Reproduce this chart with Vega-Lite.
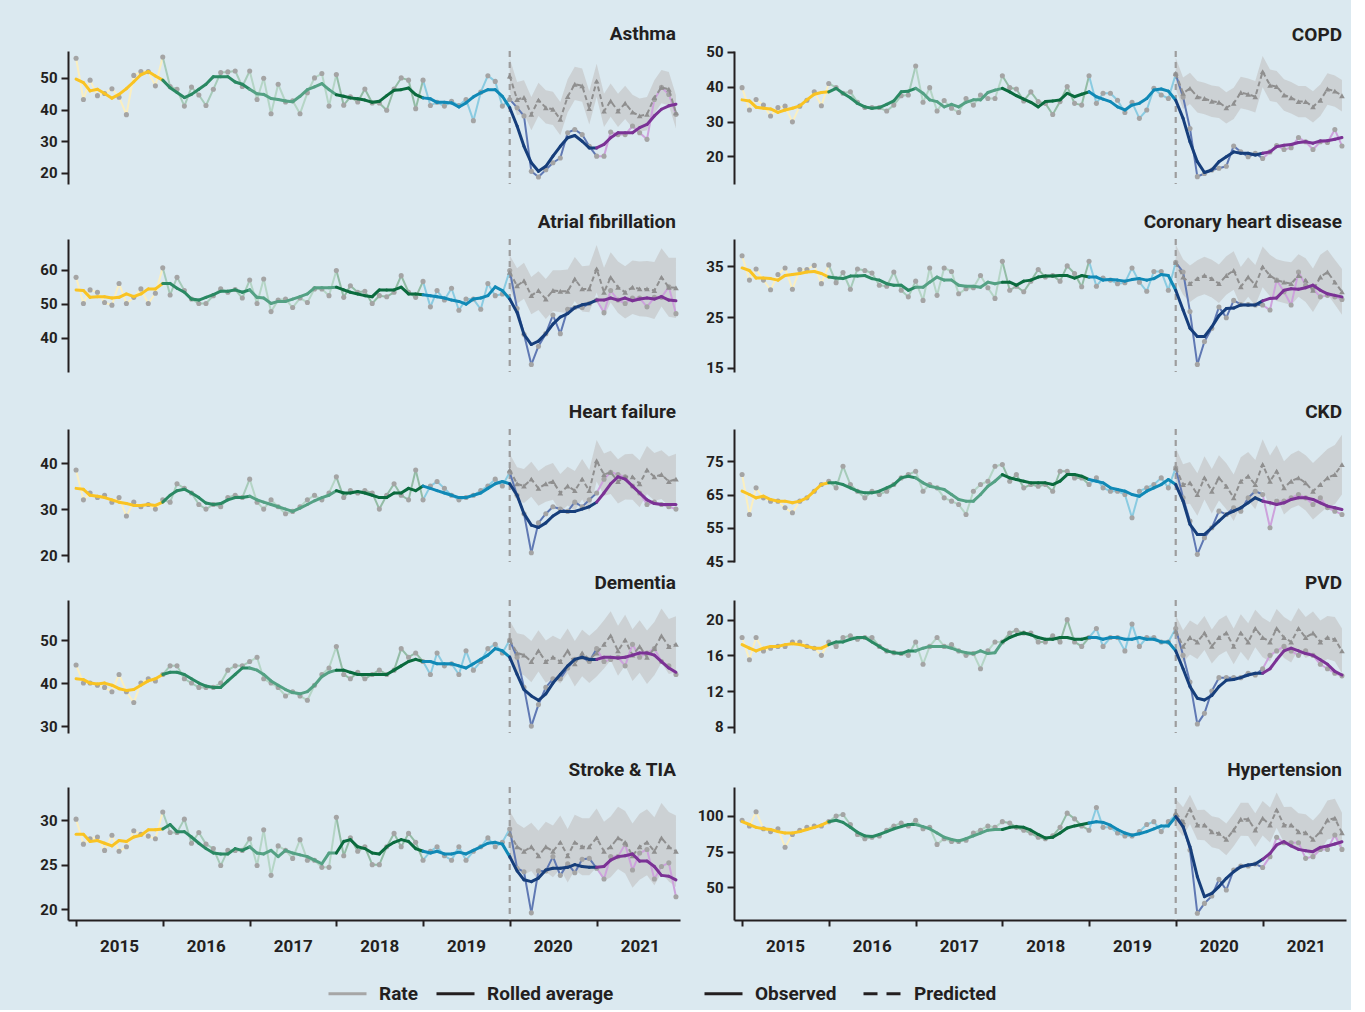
{
"$schema":"https://vega.github.io/schema/vega-lite/v6.json",
"background":"#dbe9f0",
"padding":{"left":28,"top":24,"right":5,"bottom":6},
"config":{
"font":"Roboto",
"view":{"stroke":null},
"axis":{"domainColor":"#231f20","domainWidth":2,"tickColor":"#231f20","tickWidth":2,"tickSize":7,"labelFontWeight":"bold","labelFontSize":15,"labelColor":"#231f20","grid":false,"labelPadding":4,"labelOverlap":false},
"axisY":{"minExtent":40},
"title":{"anchor":"end","fontSize":19,"fontWeight":"bold","color":"#231f20","offset":6,"dx":-4}
},
"datasets":{
"cut":[{"d":"2020-01"}],
"keys":[{"s":"Rate","o":"Observed"},{"s":"Rolled average","o":"Predicted"}],
"obs":[
{"c":"AST","d":"2015-01","r":56.2,"a":49.6},{"c":"AST","d":"2015-02","r":43.2,"a":48.5},{"c":"AST","d":"2015-03","r":49.3,"a":45.9},{"c":"AST","d":"2015-04","r":44.4,"a":46.4},{"c":"AST","d":"2015-05","r":45.1,"a":45.1},{"c":"AST","d":"2015-06","r":46.6,"a":43.6},{"c":"AST","d":"2015-07","r":43.9,"a":44.8},{"c":"AST","d":"2015-08","r":38.4,"a":46.6},{"c":"AST","d":"2015-09","r":50.8,"a":48.8},{"c":"AST","d":"2015-10","r":52.0,"a":51.0},{"c":"AST","d":"2015-11","r":52.0,"a":52.0},{"c":"AST","d":"2015-12","r":47.5,"a":50.6},
{"c":"AST","d":"2016-01","r":56.6,"a":49.3},{"c":"AST","d":"2016-02","r":47.3,"a":46.9},{"c":"AST","d":"2016-03","r":46.4,"a":45.4},{"c":"AST","d":"2016-04","r":41.1,"a":43.8},{"c":"AST","d":"2016-05","r":47.1,"a":44.8},{"c":"AST","d":"2016-06","r":44.6,"a":46.4},{"c":"AST","d":"2016-07","r":41.3,"a":48.0},{"c":"AST","d":"2016-08","r":46.4,"a":50.4},{"c":"AST","d":"2016-09","r":51.7,"a":50.4},{"c":"AST","d":"2016-10","r":51.9,"a":50.4},{"c":"AST","d":"2016-11","r":52.2,"a":48.7},{"c":"AST","d":"2016-12","r":47.3,"a":48.0},
{"c":"AST","d":"2017-01","r":52.2,"a":46.4},{"c":"AST","d":"2017-02","r":43.2,"a":45.0},{"c":"AST","d":"2017-03","r":49.9,"a":44.8},{"c":"AST","d":"2017-04","r":38.7,"a":43.5},{"c":"AST","d":"2017-05","r":48.0,"a":43.2},{"c":"AST","d":"2017-06","r":42.4,"a":42.7},{"c":"AST","d":"2017-07","r":42.8,"a":42.5},{"c":"AST","d":"2017-08","r":38.7,"a":44.2},{"c":"AST","d":"2017-09","r":45.3,"a":46.3},{"c":"AST","d":"2017-10","r":50.0,"a":47.2},{"c":"AST","d":"2017-11","r":51.4,"a":48.2},{"c":"AST","d":"2017-12","r":41.1,"a":46.3},
{"c":"AST","d":"2018-01","r":51.1,"a":44.7},{"c":"AST","d":"2018-02","r":41.4,"a":44.2},{"c":"AST","d":"2018-03","r":44.0,"a":43.7},{"c":"AST","d":"2018-04","r":42.4,"a":43.4},{"c":"AST","d":"2018-05","r":46.5,"a":43.0},{"c":"AST","d":"2018-06","r":42.1,"a":42.3},{"c":"AST","d":"2018-07","r":42.1,"a":42.6},{"c":"AST","d":"2018-08","r":39.8,"a":44.4},{"c":"AST","d":"2018-09","r":46.5,"a":46.1},{"c":"AST","d":"2018-10","r":50.0,"a":46.3},{"c":"AST","d":"2018-11","r":49.3,"a":46.8},{"c":"AST","d":"2018-12","r":40.3,"a":44.7},
{"c":"AST","d":"2019-01","r":49.3,"a":43.7},{"c":"AST","d":"2019-02","r":41.3,"a":43.4},{"c":"AST","d":"2019-03","r":42.3,"a":42.3},{"c":"AST","d":"2019-04","r":41.1,"a":42.3},{"c":"AST","d":"2019-05","r":42.6,"a":42.1},{"c":"AST","d":"2019-06","r":41.3,"a":40.8},{"c":"AST","d":"2019-07","r":43.2,"a":42.1},{"c":"AST","d":"2019-08","r":36.5,"a":44.0},{"c":"AST","d":"2019-09","r":45.5,"a":45.3},{"c":"AST","d":"2019-10","r":50.7,"a":46.3},{"c":"AST","d":"2019-11","r":48.9,"a":46.3},{"c":"AST","d":"2019-12","r":41.1,"a":44.2},
{"c":"AST","d":"2020-01","r":43.2,"a":40.6},{"c":"AST","d":"2020-02","r":40.6,"a":34.8},{"c":"AST","d":"2020-03","r":38.0,"a":28.4},{"c":"AST","d":"2020-04","r":20.5,"a":23.2},{"c":"AST","d":"2020-05","r":18.7,"a":20.5},{"c":"AST","d":"2020-06","r":21.0,"a":22.1},{"c":"AST","d":"2020-07","r":23.2,"a":25.3},{"c":"AST","d":"2020-08","r":24.7,"a":28.4},{"c":"AST","d":"2020-09","r":32.7,"a":31.1},{"c":"AST","d":"2020-10","r":33.7,"a":31.8},{"c":"AST","d":"2020-11","r":32.1,"a":30.0},{"c":"AST","d":"2020-12","r":28.4,"a":27.9},
{"c":"AST","d":"2021-01","r":25.3,"a":27.9},{"c":"AST","d":"2021-02","r":25.3,"a":29.0},{"c":"AST","d":"2021-03","r":32.9,"a":31.1},{"c":"AST","d":"2021-04","r":32.1,"a":32.7},{"c":"AST","d":"2021-05","r":32.1,"a":32.7},{"c":"AST","d":"2021-06","r":34.8,"a":32.7},{"c":"AST","d":"2021-07","r":32.7,"a":34.3},{"c":"AST","d":"2021-08","r":30.6,"a":35.3},{"c":"AST","d":"2021-09","r":43.2,"a":38.0},{"c":"AST","d":"2021-10","r":47.0,"a":40.1},{"c":"AST","d":"2021-11","r":44.8,"a":41.2},{"c":"AST","d":"2021-12","r":38.5,"a":41.7},
{"c":"COPD","d":"2015-01","r":39.7,"a":36.2},{"c":"COPD","d":"2015-02","r":33.3,"a":35.9},{"c":"COPD","d":"2015-03","r":36.3,"a":34.1},{"c":"COPD","d":"2015-04","r":34.7,"a":33.8},{"c":"COPD","d":"2015-05","r":31.6,"a":33.6},{"c":"COPD","d":"2015-06","r":34.0,"a":32.6},{"c":"COPD","d":"2015-07","r":34.4,"a":33.3},{"c":"COPD","d":"2015-08","r":29.9,"a":33.8},{"c":"COPD","d":"2015-09","r":34.4,"a":34.5},{"c":"COPD","d":"2015-10","r":36.1,"a":36.2},{"c":"COPD","d":"2015-11","r":38.5,"a":37.8},{"c":"COPD","d":"2015-12","r":34.5,"a":38.3},
{"c":"COPD","d":"2016-01","r":40.9,"a":38.5},{"c":"COPD","d":"2016-02","r":39.7,"a":39.5},{"c":"COPD","d":"2016-03","r":38.1,"a":38.1},{"c":"COPD","d":"2016-04","r":38.5,"a":36.8},{"c":"COPD","d":"2016-05","r":35.5,"a":35.2},{"c":"COPD","d":"2016-06","r":34.0,"a":34.2},{"c":"COPD","d":"2016-07","r":34.0,"a":33.8},{"c":"COPD","d":"2016-08","r":34.0,"a":34.0},{"c":"COPD","d":"2016-09","r":33.0,"a":34.9},{"c":"COPD","d":"2016-10","r":34.7,"a":35.9},{"c":"COPD","d":"2016-11","r":37.4,"a":38.5},{"c":"COPD","d":"2016-12","r":37.6,"a":38.7},
{"c":"COPD","d":"2017-01","r":45.9,"a":39.5},{"c":"COPD","d":"2017-02","r":35.5,"a":38.1},{"c":"COPD","d":"2017-03","r":39.7,"a":36.2},{"c":"COPD","d":"2017-04","r":33.0,"a":35.7},{"c":"COPD","d":"2017-05","r":36.0,"a":34.2},{"c":"COPD","d":"2017-06","r":33.8,"a":34.9},{"c":"COPD","d":"2017-07","r":32.6,"a":34.2},{"c":"COPD","d":"2017-08","r":36.6,"a":35.5},{"c":"COPD","d":"2017-09","r":34.7,"a":36.2},{"c":"COPD","d":"2017-10","r":37.6,"a":36.2},{"c":"COPD","d":"2017-11","r":36.6,"a":38.3},{"c":"COPD","d":"2017-12","r":36.6,"a":39.0},
{"c":"COPD","d":"2018-01","r":43.1,"a":39.5},{"c":"COPD","d":"2018-02","r":39.7,"a":38.5},{"c":"COPD","d":"2018-03","r":39.3,"a":37.4},{"c":"COPD","d":"2018-04","r":35.9,"a":36.4},{"c":"COPD","d":"2018-05","r":38.5,"a":35.5},{"c":"COPD","d":"2018-06","r":35.7,"a":34.2},{"c":"COPD","d":"2018-07","r":35.2,"a":35.7},{"c":"COPD","d":"2018-08","r":32.0,"a":35.9},{"c":"COPD","d":"2018-09","r":35.7,"a":36.2},{"c":"COPD","d":"2018-10","r":40.0,"a":38.1},{"c":"COPD","d":"2018-11","r":35.2,"a":37.1},{"c":"COPD","d":"2018-12","r":34.7,"a":37.8},
{"c":"COPD","d":"2019-01","r":43.1,"a":38.5},{"c":"COPD","d":"2019-02","r":35.2,"a":37.1},{"c":"COPD","d":"2019-03","r":38.1,"a":36.4},{"c":"COPD","d":"2019-04","r":38.1,"a":35.7},{"c":"COPD","d":"2019-05","r":36.1,"a":34.2},{"c":"COPD","d":"2019-06","r":32.6,"a":33.3},{"c":"COPD","d":"2019-07","r":35.5,"a":34.7},{"c":"COPD","d":"2019-08","r":30.9,"a":35.2},{"c":"COPD","d":"2019-09","r":33.3,"a":36.6},{"c":"COPD","d":"2019-10","r":39.5,"a":39.0},{"c":"COPD","d":"2019-11","r":37.6,"a":39.3},{"c":"COPD","d":"2019-12","r":36.6,"a":38.7},
{"c":"COPD","d":"2020-01","r":43.5,"a":36.1},{"c":"COPD","d":"2020-02","r":37.0,"a":30.9},{"c":"COPD","d":"2020-03","r":28.0,"a":24.2},{"c":"COPD","d":"2020-04","r":14.2,"a":18.5},{"c":"COPD","d":"2020-05","r":15.1,"a":15.4},{"c":"COPD","d":"2020-06","r":16.1,"a":16.1},{"c":"COPD","d":"2020-07","r":16.6,"a":18.5},{"c":"COPD","d":"2020-08","r":17.2,"a":19.9},{"c":"COPD","d":"2020-09","r":23.0,"a":21.3},{"c":"COPD","d":"2020-10","r":21.3,"a":20.9},{"c":"COPD","d":"2020-11","r":19.9,"a":20.9},{"c":"COPD","d":"2020-12","r":20.9,"a":20.4},
{"c":"COPD","d":"2021-01","r":19.4,"a":20.9},{"c":"COPD","d":"2021-02","r":21.3,"a":21.3},{"c":"COPD","d":"2021-03","r":23.1,"a":22.8},{"c":"COPD","d":"2021-04","r":22.0,"a":23.2},{"c":"COPD","d":"2021-05","r":22.5,"a":23.4},{"c":"COPD","d":"2021-06","r":25.4,"a":24.0},{"c":"COPD","d":"2021-07","r":24.2,"a":24.2},{"c":"COPD","d":"2021-08","r":22.0,"a":23.8},{"c":"COPD","d":"2021-09","r":24.2,"a":24.4},{"c":"COPD","d":"2021-10","r":24.0,"a":24.5},{"c":"COPD","d":"2021-11","r":27.7,"a":24.9},{"c":"COPD","d":"2021-12","r":23.0,"a":25.4},
{"c":"AF","d":"2015-01","r":57.8,"a":54.1},{"c":"AF","d":"2015-02","r":50.1,"a":53.9},{"c":"AF","d":"2015-03","r":54.1,"a":51.9},{"c":"AF","d":"2015-04","r":53.4,"a":52.1},{"c":"AF","d":"2015-05","r":50.4,"a":52.1},{"c":"AF","d":"2015-06","r":49.6,"a":51.7},{"c":"AF","d":"2015-07","r":56.0,"a":51.9},{"c":"AF","d":"2015-08","r":50.1,"a":52.9},{"c":"AF","d":"2015-09","r":51.9,"a":52.1},{"c":"AF","d":"2015-10","r":54.4,"a":52.9},{"c":"AF","d":"2015-11","r":50.1,"a":54.4},{"c":"AF","d":"2015-12","r":53.1,"a":54.4},
{"c":"AF","d":"2016-01","r":60.6,"a":56.0},{"c":"AF","d":"2016-02","r":52.6,"a":56.0},{"c":"AF","d":"2016-03","r":57.8,"a":54.6},{"c":"AF","d":"2016-04","r":53.9,"a":53.4},{"c":"AF","d":"2016-05","r":51.4,"a":51.4},{"c":"AF","d":"2016-06","r":50.1,"a":51.1},{"c":"AF","d":"2016-07","r":50.1,"a":51.9},{"c":"AF","d":"2016-08","r":52.4,"a":52.7},{"c":"AF","d":"2016-09","r":54.4,"a":53.7},{"c":"AF","d":"2016-10","r":53.4,"a":53.7},{"c":"AF","d":"2016-11","r":54.2,"a":54.1},{"c":"AF","d":"2016-12","r":51.7,"a":53.4},
{"c":"AF","d":"2017-01","r":57.0,"a":54.1},{"c":"AF","d":"2017-02","r":50.1,"a":51.9},{"c":"AF","d":"2017-03","r":57.3,"a":51.7},{"c":"AF","d":"2017-04","r":47.7,"a":50.1},{"c":"AF","d":"2017-05","r":51.1,"a":50.7},{"c":"AF","d":"2017-06","r":51.4,"a":50.7},{"c":"AF","d":"2017-07","r":48.9,"a":51.4},{"c":"AF","d":"2017-08","r":51.7,"a":52.1},{"c":"AF","d":"2017-09","r":50.4,"a":52.9},{"c":"AF","d":"2017-10","r":54.4,"a":54.7},{"c":"AF","d":"2017-11","r":54.4,"a":54.7},{"c":"AF","d":"2017-12","r":52.4,"a":54.7},
{"c":"AF","d":"2018-01","r":59.8,"a":54.9},{"c":"AF","d":"2018-02","r":51.9,"a":54.1},{"c":"AF","d":"2018-03","r":55.3,"a":53.4},{"c":"AF","d":"2018-04","r":53.4,"a":52.9},{"c":"AF","d":"2018-05","r":53.7,"a":52.4},{"c":"AF","d":"2018-06","r":50.1,"a":52.1},{"c":"AF","d":"2018-07","r":52.4,"a":54.1},{"c":"AF","d":"2018-08","r":52.1,"a":54.1},{"c":"AF","d":"2018-09","r":53.4,"a":54.1},{"c":"AF","d":"2018-10","r":58.3,"a":54.9},{"c":"AF","d":"2018-11","r":53.4,"a":52.9},{"c":"AF","d":"2018-12","r":51.9,"a":52.9},
{"c":"AF","d":"2019-01","r":56.6,"a":52.7},{"c":"AF","d":"2019-02","r":49.1,"a":52.4},{"c":"AF","d":"2019-03","r":53.9,"a":52.1},{"c":"AF","d":"2019-04","r":51.1,"a":51.7},{"c":"AF","d":"2019-05","r":54.6,"a":51.1},{"c":"AF","d":"2019-06","r":48.1,"a":50.7},{"c":"AF","d":"2019-07","r":51.4,"a":49.9},{"c":"AF","d":"2019-08","r":51.4,"a":51.4},{"c":"AF","d":"2019-09","r":48.4,"a":51.7},{"c":"AF","d":"2019-10","r":56.0,"a":52.4},{"c":"AF","d":"2019-11","r":52.4,"a":55.0},{"c":"AF","d":"2019-12","r":52.9,"a":53.9},
{"c":"AF","d":"2020-01","r":59.8,"a":51.4},{"c":"AF","d":"2020-02","r":48.6,"a":47.4},{"c":"AF","d":"2020-03","r":41.0,"a":41.0},{"c":"AF","d":"2020-04","r":32.1,"a":38.0},{"c":"AF","d":"2020-05","r":37.5,"a":39.0},{"c":"AF","d":"2020-06","r":41.2,"a":41.2},{"c":"AF","d":"2020-07","r":46.7,"a":44.0},{"c":"AF","d":"2020-08","r":41.2,"a":46.1},{"c":"AF","d":"2020-09","r":48.4,"a":47.1},{"c":"AF","d":"2020-10","r":48.9,"a":48.9},{"c":"AF","d":"2020-11","r":48.9,"a":49.7},{"c":"AF","d":"2020-12","r":50.1,"a":50.1},
{"c":"AF","d":"2021-01","r":51.1,"a":51.1},{"c":"AF","d":"2021-02","r":47.4,"a":51.1},{"c":"AF","d":"2021-03","r":53.9,"a":51.7},{"c":"AF","d":"2021-04","r":51.1,"a":51.1},{"c":"AF","d":"2021-05","r":50.1,"a":51.7},{"c":"AF","d":"2021-06","r":51.7,"a":50.9},{"c":"AF","d":"2021-07","r":51.7,"a":51.4},{"c":"AF","d":"2021-08","r":49.1,"a":51.7},{"c":"AF","d":"2021-09","r":51.9,"a":51.4},{"c":"AF","d":"2021-10","r":51.9,"a":52.1},{"c":"AF","d":"2021-11","r":55.0,"a":51.1},{"c":"AF","d":"2021-12","r":47.1,"a":50.9},
{"c":"CHD","d":"2015-01","r":37.1,"a":34.7},{"c":"CHD","d":"2015-02","r":32.3,"a":34.2},{"c":"CHD","d":"2015-03","r":34.5,"a":32.7},{"c":"CHD","d":"2015-04","r":32.3,"a":32.7},{"c":"CHD","d":"2015-05","r":30.4,"a":32.6},{"c":"CHD","d":"2015-06","r":33.4,"a":32.3},{"c":"CHD","d":"2015-07","r":34.7,"a":33.2},{"c":"CHD","d":"2015-08","r":30.5,"a":33.4},{"c":"CHD","d":"2015-09","r":34.4,"a":33.6},{"c":"CHD","d":"2015-10","r":34.4,"a":33.9},{"c":"CHD","d":"2015-11","r":35.2,"a":34.0},{"c":"CHD","d":"2015-12","r":31.6,"a":33.6},
{"c":"CHD","d":"2016-01","r":35.3,"a":32.9},{"c":"CHD","d":"2016-02","r":31.8,"a":32.7},{"c":"CHD","d":"2016-03","r":33.8,"a":32.6},{"c":"CHD","d":"2016-04","r":30.5,"a":33.1},{"c":"CHD","d":"2016-05","r":34.5,"a":33.1},{"c":"CHD","d":"2016-06","r":34.2,"a":33.2},{"c":"CHD","d":"2016-07","r":33.7,"a":32.6},{"c":"CHD","d":"2016-08","r":31.3,"a":32.3},{"c":"CHD","d":"2016-09","r":31.1,"a":31.6},{"c":"CHD","d":"2016-10","r":33.9,"a":31.3},{"c":"CHD","d":"2016-11","r":30.3,"a":31.3},{"c":"CHD","d":"2016-12","r":29.0,"a":30.3},
{"c":"CHD","d":"2017-01","r":32.1,"a":30.9},{"c":"CHD","d":"2017-02","r":28.3,"a":30.9},{"c":"CHD","d":"2017-03","r":34.7,"a":31.9},{"c":"CHD","d":"2017-04","r":29.3,"a":32.9},{"c":"CHD","d":"2017-05","r":34.7,"a":32.3},{"c":"CHD","d":"2017-06","r":34.0,"a":32.3},{"c":"CHD","d":"2017-07","r":29.6,"a":31.3},{"c":"CHD","d":"2017-08","r":30.6,"a":31.1},{"c":"CHD","d":"2017-09","r":30.8,"a":31.1},{"c":"CHD","d":"2017-10","r":33.2,"a":30.9},{"c":"CHD","d":"2017-11","r":30.8,"a":31.9},{"c":"CHD","d":"2017-12","r":28.7,"a":31.6},
{"c":"CHD","d":"2018-01","r":36.0,"a":31.9},{"c":"CHD","d":"2018-02","r":30.3,"a":31.9},{"c":"CHD","d":"2018-03","r":31.1,"a":31.3},{"c":"CHD","d":"2018-04","r":30.0,"a":32.1},{"c":"CHD","d":"2018-05","r":32.1,"a":32.3},{"c":"CHD","d":"2018-06","r":34.4,"a":32.9},{"c":"CHD","d":"2018-07","r":32.9,"a":33.1},{"c":"CHD","d":"2018-08","r":33.2,"a":33.1},{"c":"CHD","d":"2018-09","r":32.1,"a":33.2},{"c":"CHD","d":"2018-10","r":35.1,"a":33.2},{"c":"CHD","d":"2018-11","r":33.6,"a":32.7},{"c":"CHD","d":"2018-12","r":31.0,"a":33.2},
{"c":"CHD","d":"2019-01","r":36.0,"a":32.9},{"c":"CHD","d":"2019-02","r":31.1,"a":32.9},{"c":"CHD","d":"2019-03","r":32.7,"a":32.3},{"c":"CHD","d":"2019-04","r":32.3,"a":32.4},{"c":"CHD","d":"2019-05","r":31.6,"a":32.3},{"c":"CHD","d":"2019-06","r":31.8,"a":32.1},{"c":"CHD","d":"2019-07","r":34.7,"a":32.4},{"c":"CHD","d":"2019-08","r":31.9,"a":32.6},{"c":"CHD","d":"2019-09","r":30.1,"a":32.3},{"c":"CHD","d":"2019-10","r":34.0,"a":32.6},{"c":"CHD","d":"2019-11","r":34.0,"a":33.4},{"c":"CHD","d":"2019-12","r":30.3,"a":33.2},
{"c":"CHD","d":"2020-01","r":35.8,"a":30.3},{"c":"CHD","d":"2020-02","r":33.9,"a":26.4},{"c":"CHD","d":"2020-03","r":26.1,"a":22.8},{"c":"CHD","d":"2020-04","r":15.7,"a":21.2},{"c":"CHD","d":"2020-05","r":20.2,"a":21.2},{"c":"CHD","d":"2020-06","r":22.8,"a":23.1},{"c":"CHD","d":"2020-07","r":27.0,"a":25.3},{"c":"CHD","d":"2020-08","r":24.9,"a":26.7},{"c":"CHD","d":"2020-09","r":28.3,"a":26.8},{"c":"CHD","d":"2020-10","r":27.5,"a":27.4},{"c":"CHD","d":"2020-11","r":27.5,"a":27.4},{"c":"CHD","d":"2020-12","r":27.4,"a":27.4},
{"c":"CHD","d":"2021-01","r":27.4,"a":28.2},{"c":"CHD","d":"2021-02","r":26.4,"a":28.7},{"c":"CHD","d":"2021-03","r":32.3,"a":28.8},{"c":"CHD","d":"2021-04","r":30.0,"a":30.3},{"c":"CHD","d":"2021-05","r":27.4,"a":30.6},{"c":"CHD","d":"2021-06","r":33.9,"a":30.5},{"c":"CHD","d":"2021-07","r":31.3,"a":30.8},{"c":"CHD","d":"2021-08","r":30.6,"a":31.3},{"c":"CHD","d":"2021-09","r":29.0,"a":30.3},{"c":"CHD","d":"2021-10","r":29.3,"a":29.6},{"c":"CHD","d":"2021-11","r":29.0,"a":29.3},{"c":"CHD","d":"2021-12","r":28.5,"a":29.0},
{"c":"HF","d":"2015-01","r":38.5,"a":34.5},{"c":"HF","d":"2015-02","r":32.0,"a":34.3},{"c":"HF","d":"2015-03","r":33.5,"a":33.0},{"c":"HF","d":"2015-04","r":32.5,"a":32.8},{"c":"HF","d":"2015-05","r":33.0,"a":32.5},{"c":"HF","d":"2015-06","r":31.5,"a":32.0},{"c":"HF","d":"2015-07","r":32.5,"a":31.5},{"c":"HF","d":"2015-08","r":28.5,"a":31.2},{"c":"HF","d":"2015-09","r":31.5,"a":30.8},{"c":"HF","d":"2015-10","r":30.5,"a":30.8},{"c":"HF","d":"2015-11","r":31.0,"a":31.0},{"c":"HF","d":"2015-12","r":30.0,"a":30.8},
{"c":"HF","d":"2016-01","r":32.0,"a":31.5},{"c":"HF","d":"2016-02","r":31.5,"a":33.0},{"c":"HF","d":"2016-03","r":35.5,"a":34.0},{"c":"HF","d":"2016-04","r":34.5,"a":34.3},{"c":"HF","d":"2016-05","r":33.5,"a":33.5},{"c":"HF","d":"2016-06","r":31.0,"a":32.5},{"c":"HF","d":"2016-07","r":30.0,"a":31.3},{"c":"HF","d":"2016-08","r":31.0,"a":31.0},{"c":"HF","d":"2016-09","r":30.5,"a":31.2},{"c":"HF","d":"2016-10","r":32.5,"a":32.0},{"c":"HF","d":"2016-11","r":33.0,"a":32.5},{"c":"HF","d":"2016-12","r":32.5,"a":32.5},
{"c":"HF","d":"2017-01","r":36.5,"a":32.8},{"c":"HF","d":"2017-02","r":31.5,"a":32.0},{"c":"HF","d":"2017-03","r":30.0,"a":31.5},{"c":"HF","d":"2017-04","r":32.0,"a":31.0},{"c":"HF","d":"2017-05","r":30.5,"a":30.5},{"c":"HF","d":"2017-06","r":29.0,"a":30.0},{"c":"HF","d":"2017-07","r":29.5,"a":29.5},{"c":"HF","d":"2017-08","r":30.5,"a":30.2},{"c":"HF","d":"2017-09","r":32.0,"a":31.0},{"c":"HF","d":"2017-10","r":33.0,"a":31.8},{"c":"HF","d":"2017-11","r":32.0,"a":32.5},{"c":"HF","d":"2017-12","r":33.5,"a":33.0},
{"c":"HF","d":"2018-01","r":37.0,"a":34.0},{"c":"HF","d":"2018-02","r":32.5,"a":33.5},{"c":"HF","d":"2018-03","r":34.0,"a":33.5},{"c":"HF","d":"2018-04","r":33.5,"a":33.8},{"c":"HF","d":"2018-05","r":34.0,"a":33.5},{"c":"HF","d":"2018-06","r":33.5,"a":33.0},{"c":"HF","d":"2018-07","r":30.0,"a":32.5},{"c":"HF","d":"2018-08","r":33.0,"a":32.5},{"c":"HF","d":"2018-09","r":35.5,"a":33.5},{"c":"HF","d":"2018-10","r":33.0,"a":33.5},{"c":"HF","d":"2018-11","r":32.0,"a":34.5},{"c":"HF","d":"2018-12","r":38.5,"a":34.0},
{"c":"HF","d":"2019-01","r":32.0,"a":35.0},{"c":"HF","d":"2019-02","r":35.0,"a":34.5},{"c":"HF","d":"2019-03","r":36.0,"a":34.0},{"c":"HF","d":"2019-04","r":34.5,"a":33.5},{"c":"HF","d":"2019-05","r":33.0,"a":33.0},{"c":"HF","d":"2019-06","r":32.0,"a":32.5},{"c":"HF","d":"2019-07","r":32.5,"a":32.5},{"c":"HF","d":"2019-08","r":33.0,"a":33.0},{"c":"HF","d":"2019-09","r":34.0,"a":33.5},{"c":"HF","d":"2019-10","r":35.0,"a":34.5},{"c":"HF","d":"2019-11","r":36.5,"a":35.5},{"c":"HF","d":"2019-12","r":35.0,"a":36.0},
{"c":"HF","d":"2020-01","r":38.0,"a":35.5},{"c":"HF","d":"2020-02","r":33.0,"a":33.0},{"c":"HF","d":"2020-03","r":29.0,"a":29.0},{"c":"HF","d":"2020-04","r":20.5,"a":26.5},{"c":"HF","d":"2020-05","r":27.0,"a":26.0},{"c":"HF","d":"2020-06","r":29.0,"a":27.0},{"c":"HF","d":"2020-07","r":30.5,"a":28.5},{"c":"HF","d":"2020-08","r":30.0,"a":29.5},{"c":"HF","d":"2020-09","r":29.5,"a":29.5},{"c":"HF","d":"2020-10","r":31.5,"a":29.5},{"c":"HF","d":"2020-11","r":30.5,"a":30.0},{"c":"HF","d":"2020-12","r":32.0,"a":30.5},
{"c":"HF","d":"2021-01","r":33.5,"a":31.5},{"c":"HF","d":"2021-02","r":36.5,"a":33.5},{"c":"HF","d":"2021-03","r":38.0,"a":35.5},{"c":"HF","d":"2021-04","r":37.5,"a":37.0},{"c":"HF","d":"2021-05","r":37.0,"a":36.5},{"c":"HF","d":"2021-06","r":35.0,"a":35.0},{"c":"HF","d":"2021-07","r":33.5,"a":33.5},{"c":"HF","d":"2021-08","r":31.0,"a":32.0},{"c":"HF","d":"2021-09","r":31.5,"a":31.2},{"c":"HF","d":"2021-10","r":31.0,"a":31.0},{"c":"HF","d":"2021-11","r":30.5,"a":31.0},{"c":"HF","d":"2021-12","r":30.0,"a":31.0},
{"c":"CKD","d":"2015-01","r":71,"a":66},{"c":"CKD","d":"2015-02","r":59,"a":65},{"c":"CKD","d":"2015-03","r":67,"a":64},{"c":"CKD","d":"2015-04","r":64,"a":64.5},{"c":"CKD","d":"2015-05","r":63,"a":63.5},{"c":"CKD","d":"2015-06","r":63,"a":63},{"c":"CKD","d":"2015-07","r":61,"a":63},{"c":"CKD","d":"2015-08","r":59.5,"a":62.5},{"c":"CKD","d":"2015-09","r":63,"a":63},{"c":"CKD","d":"2015-10","r":64,"a":64},{"c":"CKD","d":"2015-11","r":66,"a":66},{"c":"CKD","d":"2015-12","r":68,"a":68},
{"c":"CKD","d":"2016-01","r":69,"a":68.5},{"c":"CKD","d":"2016-02","r":67,"a":68.5},{"c":"CKD","d":"2016-03","r":73.5,"a":68},{"c":"CKD","d":"2016-04","r":68,"a":67},{"c":"CKD","d":"2016-05","r":66,"a":66},{"c":"CKD","d":"2016-06","r":64,"a":65.5},{"c":"CKD","d":"2016-07","r":66,"a":65.5},{"c":"CKD","d":"2016-08","r":65,"a":66},{"c":"CKD","d":"2016-09","r":66,"a":67},{"c":"CKD","d":"2016-10","r":68,"a":68},{"c":"CKD","d":"2016-11","r":70,"a":70},{"c":"CKD","d":"2016-12","r":71,"a":70.5},
{"c":"CKD","d":"2017-01","r":72,"a":70},{"c":"CKD","d":"2017-02","r":66,"a":68.5},{"c":"CKD","d":"2017-03","r":68,"a":67.5},{"c":"CKD","d":"2017-04","r":67,"a":67},{"c":"CKD","d":"2017-05","r":64,"a":66.5},{"c":"CKD","d":"2017-06","r":63,"a":65},{"c":"CKD","d":"2017-07","r":62,"a":63.5},{"c":"CKD","d":"2017-08","r":59,"a":63},{"c":"CKD","d":"2017-09","r":66,"a":63},{"c":"CKD","d":"2017-10","r":68,"a":65},{"c":"CKD","d":"2017-11","r":69,"a":67.5},{"c":"CKD","d":"2017-12","r":73.5,"a":69},
{"c":"CKD","d":"2018-01","r":74,"a":71},{"c":"CKD","d":"2018-02","r":69,"a":70},{"c":"CKD","d":"2018-03","r":71,"a":69.5},{"c":"CKD","d":"2018-04","r":67,"a":69},{"c":"CKD","d":"2018-05","r":68,"a":68.5},{"c":"CKD","d":"2018-06","r":67.5,"a":68.5},{"c":"CKD","d":"2018-07","r":68,"a":68.5},{"c":"CKD","d":"2018-08","r":66,"a":68},{"c":"CKD","d":"2018-09","r":72,"a":69},{"c":"CKD","d":"2018-10","r":72,"a":71},{"c":"CKD","d":"2018-11","r":70,"a":71},{"c":"CKD","d":"2018-12","r":70,"a":70.5},
{"c":"CKD","d":"2019-01","r":68,"a":69.5},{"c":"CKD","d":"2019-02","r":70,"a":69},{"c":"CKD","d":"2019-03","r":67,"a":68.5},{"c":"CKD","d":"2019-04","r":66,"a":67},{"c":"CKD","d":"2019-05","r":66,"a":66.5},{"c":"CKD","d":"2019-06","r":65,"a":66},{"c":"CKD","d":"2019-07","r":58,"a":65},{"c":"CKD","d":"2019-08","r":66,"a":64.5},{"c":"CKD","d":"2019-09","r":67,"a":66},{"c":"CKD","d":"2019-10","r":68,"a":67},{"c":"CKD","d":"2019-11","r":70,"a":68},{"c":"CKD","d":"2019-12","r":67,"a":69.5},
{"c":"CKD","d":"2020-01","r":73,"a":68},{"c":"CKD","d":"2020-02","r":64,"a":63},{"c":"CKD","d":"2020-03","r":57,"a":56},{"c":"CKD","d":"2020-04","r":47,"a":53},{"c":"CKD","d":"2020-05","r":52,"a":53},{"c":"CKD","d":"2020-06","r":55,"a":55},{"c":"CKD","d":"2020-07","r":60,"a":57},{"c":"CKD","d":"2020-08","r":59,"a":59},{"c":"CKD","d":"2020-09","r":61,"a":60},{"c":"CKD","d":"2020-10","r":60,"a":61},{"c":"CKD","d":"2020-11","r":64,"a":62.5},{"c":"CKD","d":"2020-12","r":66,"a":64},
{"c":"CKD","d":"2021-01","r":65,"a":63},{"c":"CKD","d":"2021-02","r":55,"a":62.5},{"c":"CKD","d":"2021-03","r":63,"a":62},{"c":"CKD","d":"2021-04","r":63,"a":62.5},{"c":"CKD","d":"2021-05","r":64,"a":63.5},{"c":"CKD","d":"2021-06","r":65,"a":64},{"c":"CKD","d":"2021-07","r":64,"a":64},{"c":"CKD","d":"2021-08","r":62,"a":63.5},{"c":"CKD","d":"2021-09","r":64,"a":62.5},{"c":"CKD","d":"2021-10","r":61,"a":61.5},{"c":"CKD","d":"2021-11","r":60,"a":61},{"c":"CKD","d":"2021-12","r":59,"a":60.5},
{"c":"DEM","d":"2015-01","r":44.2,"a":41.0},{"c":"DEM","d":"2015-02","r":40.0,"a":40.8},{"c":"DEM","d":"2015-03","r":40.0,"a":40.0},{"c":"DEM","d":"2015-04","r":39.5,"a":39.8},{"c":"DEM","d":"2015-05","r":39.0,"a":40.0},{"c":"DEM","d":"2015-06","r":38.0,"a":39.5},{"c":"DEM","d":"2015-07","r":42.0,"a":38.7},{"c":"DEM","d":"2015-08","r":38.0,"a":38.3},{"c":"DEM","d":"2015-09","r":35.5,"a":38.5},{"c":"DEM","d":"2015-10","r":40.0,"a":39.5},{"c":"DEM","d":"2015-11","r":41.0,"a":40.5},{"c":"DEM","d":"2015-12","r":40.5,"a":41.0},
{"c":"DEM","d":"2016-01","r":42.0,"a":42.0},{"c":"DEM","d":"2016-02","r":44.0,"a":42.5},{"c":"DEM","d":"2016-03","r":44.0,"a":42.5},{"c":"DEM","d":"2016-04","r":41.0,"a":42.0},{"c":"DEM","d":"2016-05","r":40.0,"a":41.0},{"c":"DEM","d":"2016-06","r":39.0,"a":40.0},{"c":"DEM","d":"2016-07","r":39.0,"a":39.3},{"c":"DEM","d":"2016-08","r":39.0,"a":39.0},{"c":"DEM","d":"2016-09","r":40.0,"a":39.0},{"c":"DEM","d":"2016-10","r":43.0,"a":40.5},{"c":"DEM","d":"2016-11","r":44.0,"a":42.0},{"c":"DEM","d":"2016-12","r":44.0,"a":43.5},
{"c":"DEM","d":"2017-01","r":45.0,"a":43.5},{"c":"DEM","d":"2017-02","r":46.0,"a":43.0},{"c":"DEM","d":"2017-03","r":41.0,"a":42.0},{"c":"DEM","d":"2017-04","r":40.0,"a":40.5},{"c":"DEM","d":"2017-05","r":39.0,"a":39.5},{"c":"DEM","d":"2017-06","r":37.0,"a":38.5},{"c":"DEM","d":"2017-07","r":38.0,"a":37.8},{"c":"DEM","d":"2017-08","r":37.0,"a":37.5},{"c":"DEM","d":"2017-09","r":36.0,"a":38.0},{"c":"DEM","d":"2017-10","r":39.5,"a":39.5},{"c":"DEM","d":"2017-11","r":42.0,"a":41.5},{"c":"DEM","d":"2017-12","r":43.5,"a":42.5},
{"c":"DEM","d":"2018-01","r":48.5,"a":43.0},{"c":"DEM","d":"2018-02","r":42.0,"a":43.0},{"c":"DEM","d":"2018-03","r":41.0,"a":42.5},{"c":"DEM","d":"2018-04","r":42.5,"a":42.0},{"c":"DEM","d":"2018-05","r":41.0,"a":42.0},{"c":"DEM","d":"2018-06","r":42.0,"a":42.0},{"c":"DEM","d":"2018-07","r":43.0,"a":42.0},{"c":"DEM","d":"2018-08","r":42.0,"a":42.0},{"c":"DEM","d":"2018-09","r":43.0,"a":43.0},{"c":"DEM","d":"2018-10","r":48.0,"a":44.0},{"c":"DEM","d":"2018-11","r":46.0,"a":45.0},{"c":"DEM","d":"2018-12","r":47.0,"a":45.5},
{"c":"DEM","d":"2019-01","r":45.0,"a":45.0},{"c":"DEM","d":"2019-02","r":42.0,"a":45.0},{"c":"DEM","d":"2019-03","r":47.0,"a":44.5},{"c":"DEM","d":"2019-04","r":44.0,"a":44.5},{"c":"DEM","d":"2019-05","r":44.5,"a":44.5},{"c":"DEM","d":"2019-06","r":42.0,"a":44.0},{"c":"DEM","d":"2019-07","r":47.5,"a":43.5},{"c":"DEM","d":"2019-08","r":43.0,"a":44.5},{"c":"DEM","d":"2019-09","r":45.0,"a":45.5},{"c":"DEM","d":"2019-10","r":48.0,"a":46.5},{"c":"DEM","d":"2019-11","r":49.0,"a":48.0},{"c":"DEM","d":"2019-12","r":47.0,"a":47.5},
{"c":"DEM","d":"2020-01","r":50.0,"a":46.0},{"c":"DEM","d":"2020-02","r":46.0,"a":42.0},{"c":"DEM","d":"2020-03","r":39.0,"a":38.5},{"c":"DEM","d":"2020-04","r":30.0,"a":37.0},{"c":"DEM","d":"2020-05","r":35.0,"a":36.0},{"c":"DEM","d":"2020-06","r":39.0,"a":37.5},{"c":"DEM","d":"2020-07","r":41.0,"a":40.0},{"c":"DEM","d":"2020-08","r":41.0,"a":42.0},{"c":"DEM","d":"2020-09","r":43.5,"a":44.0},{"c":"DEM","d":"2020-10","r":45.5,"a":45.5},{"c":"DEM","d":"2020-11","r":46.0,"a":46.0},{"c":"DEM","d":"2020-12","r":45.0,"a":45.5},
{"c":"DEM","d":"2021-01","r":48.0,"a":45.5},{"c":"DEM","d":"2021-02","r":45.0,"a":46.0},{"c":"DEM","d":"2021-03","r":45.5,"a":46.0},{"c":"DEM","d":"2021-04","r":46.0,"a":45.8},{"c":"DEM","d":"2021-05","r":44.0,"a":46.0},{"c":"DEM","d":"2021-06","r":49.0,"a":46.5},{"c":"DEM","d":"2021-07","r":46.0,"a":47.0},{"c":"DEM","d":"2021-08","r":47.0,"a":47.0},{"c":"DEM","d":"2021-09","r":48.0,"a":46.5},{"c":"DEM","d":"2021-10","r":45.0,"a":45.0},{"c":"DEM","d":"2021-11","r":44.0,"a":43.5},{"c":"DEM","d":"2021-12","r":42.0,"a":42.5},
{"c":"PVD","d":"2015-01","r":18.0,"a":17.2},{"c":"PVD","d":"2015-02","r":15.5,"a":16.8},{"c":"PVD","d":"2015-03","r":18.0,"a":16.5},{"c":"PVD","d":"2015-04","r":16.5,"a":16.8},{"c":"PVD","d":"2015-05","r":16.8,"a":17.0},{"c":"PVD","d":"2015-06","r":17.0,"a":17.0},{"c":"PVD","d":"2015-07","r":17.0,"a":17.2},{"c":"PVD","d":"2015-08","r":17.5,"a":17.3},{"c":"PVD","d":"2015-09","r":17.5,"a":17.2},{"c":"PVD","d":"2015-10","r":17.0,"a":17.0},{"c":"PVD","d":"2015-11","r":16.8,"a":16.8},{"c":"PVD","d":"2015-12","r":16.0,"a":16.8},
{"c":"PVD","d":"2016-01","r":17.5,"a":17.2},{"c":"PVD","d":"2016-02","r":17.0,"a":17.5},{"c":"PVD","d":"2016-03","r":18.0,"a":17.5},{"c":"PVD","d":"2016-04","r":18.2,"a":17.8},{"c":"PVD","d":"2016-05","r":17.8,"a":18.0},{"c":"PVD","d":"2016-06","r":18.0,"a":18.0},{"c":"PVD","d":"2016-07","r":18.0,"a":17.5},{"c":"PVD","d":"2016-08","r":17.0,"a":17.0},{"c":"PVD","d":"2016-09","r":16.5,"a":16.5},{"c":"PVD","d":"2016-10","r":16.3,"a":16.3},{"c":"PVD","d":"2016-11","r":16.2,"a":16.2},{"c":"PVD","d":"2016-12","r":16.0,"a":16.5},
{"c":"PVD","d":"2017-01","r":17.5,"a":16.5},{"c":"PVD","d":"2017-02","r":15.0,"a":16.8},{"c":"PVD","d":"2017-03","r":17.0,"a":17.0},{"c":"PVD","d":"2017-04","r":18.0,"a":17.0},{"c":"PVD","d":"2017-05","r":17.0,"a":17.0},{"c":"PVD","d":"2017-06","r":17.2,"a":16.8},{"c":"PVD","d":"2017-07","r":16.5,"a":16.5},{"c":"PVD","d":"2017-08","r":16.0,"a":16.3},{"c":"PVD","d":"2017-09","r":16.2,"a":16.2},{"c":"PVD","d":"2017-10","r":14.5,"a":16.5},{"c":"PVD","d":"2017-11","r":16.5,"a":16.2},{"c":"PVD","d":"2017-12","r":17.5,"a":16.3},
{"c":"PVD","d":"2018-01","r":17.5,"a":17.5},{"c":"PVD","d":"2018-02","r":18.5,"a":18.0},{"c":"PVD","d":"2018-03","r":18.8,"a":18.3},{"c":"PVD","d":"2018-04","r":18.5,"a":18.5},{"c":"PVD","d":"2018-05","r":18.5,"a":18.3},{"c":"PVD","d":"2018-06","r":17.5,"a":18.0},{"c":"PVD","d":"2018-07","r":17.5,"a":17.8},{"c":"PVD","d":"2018-08","r":18.2,"a":17.8},{"c":"PVD","d":"2018-09","r":17.5,"a":18.0},{"c":"PVD","d":"2018-10","r":20.0,"a":18.0},{"c":"PVD","d":"2018-11","r":17.5,"a":17.8},{"c":"PVD","d":"2018-12","r":17.0,"a":17.8},
{"c":"PVD","d":"2019-01","r":18.0,"a":18.0},{"c":"PVD","d":"2019-02","r":19.0,"a":18.0},{"c":"PVD","d":"2019-03","r":17.0,"a":17.8},{"c":"PVD","d":"2019-04","r":18.0,"a":18.0},{"c":"PVD","d":"2019-05","r":18.0,"a":18.0},{"c":"PVD","d":"2019-06","r":16.5,"a":17.8},{"c":"PVD","d":"2019-07","r":19.5,"a":17.8},{"c":"PVD","d":"2019-08","r":17.0,"a":18.0},{"c":"PVD","d":"2019-09","r":18.0,"a":17.8},{"c":"PVD","d":"2019-10","r":18.0,"a":17.8},{"c":"PVD","d":"2019-11","r":17.5,"a":17.5},{"c":"PVD","d":"2019-12","r":17.5,"a":17.5},
{"c":"PVD","d":"2020-01","r":19.0,"a":16.5},{"c":"PVD","d":"2020-02","r":16.0,"a":14.5},{"c":"PVD","d":"2020-03","r":13.0,"a":12.5},{"c":"PVD","d":"2020-04","r":8.3,"a":11.2},{"c":"PVD","d":"2020-05","r":9.5,"a":11.0},{"c":"PVD","d":"2020-06","r":12.0,"a":11.5},{"c":"PVD","d":"2020-07","r":13.5,"a":12.5},{"c":"PVD","d":"2020-08","r":13.5,"a":13.2},{"c":"PVD","d":"2020-09","r":13.5,"a":13.3},{"c":"PVD","d":"2020-10","r":13.5,"a":13.5},{"c":"PVD","d":"2020-11","r":14.0,"a":13.8},{"c":"PVD","d":"2020-12","r":13.8,"a":14.0},
{"c":"PVD","d":"2021-01","r":14.5,"a":14.0},{"c":"PVD","d":"2021-02","r":16.0,"a":14.5},{"c":"PVD","d":"2021-03","r":16.5,"a":15.5},{"c":"PVD","d":"2021-04","r":17.0,"a":16.5},{"c":"PVD","d":"2021-05","r":16.5,"a":16.8},{"c":"PVD","d":"2021-06","r":16.0,"a":16.5},{"c":"PVD","d":"2021-07","r":16.5,"a":16.2},{"c":"PVD","d":"2021-08","r":16.0,"a":16.0},{"c":"PVD","d":"2021-09","r":15.0,"a":15.5},{"c":"PVD","d":"2021-10","r":14.5,"a":15.0},{"c":"PVD","d":"2021-11","r":14.0,"a":14.2},{"c":"PVD","d":"2021-12","r":13.7,"a":13.8},
{"c":"STR","d":"2015-01","r":30.1,"a":28.4},{"c":"STR","d":"2015-02","r":27.3,"a":28.4},{"c":"STR","d":"2015-03","r":27.9,"a":27.6},{"c":"STR","d":"2015-04","r":28.1,"a":27.7},{"c":"STR","d":"2015-05","r":26.6,"a":27.4},{"c":"STR","d":"2015-06","r":28.3,"a":27.1},{"c":"STR","d":"2015-07","r":26.5,"a":27.7},{"c":"STR","d":"2015-08","r":27.0,"a":27.6},{"c":"STR","d":"2015-09","r":28.8,"a":28.1},{"c":"STR","d":"2015-10","r":28.4,"a":28.3},{"c":"STR","d":"2015-11","r":28.2,"a":28.9},{"c":"STR","d":"2015-12","r":27.9,"a":28.9},
{"c":"STR","d":"2016-01","r":30.9,"a":29.0},{"c":"STR","d":"2016-02","r":28.6,"a":29.5},{"c":"STR","d":"2016-03","r":28.6,"a":28.7},{"c":"STR","d":"2016-04","r":30.1,"a":28.7},{"c":"STR","d":"2016-05","r":27.4,"a":28.1},{"c":"STR","d":"2016-06","r":28.6,"a":27.4},{"c":"STR","d":"2016-07","r":27.3,"a":26.8},{"c":"STR","d":"2016-08","r":26.8,"a":26.3},{"c":"STR","d":"2016-09","r":24.9,"a":26.2},{"c":"STR","d":"2016-10","r":26.6,"a":26.2},{"c":"STR","d":"2016-11","r":26.6,"a":26.8},{"c":"STR","d":"2016-12","r":26.6,"a":26.6},
{"c":"STR","d":"2017-01","r":27.9,"a":27.0},{"c":"STR","d":"2017-02","r":24.9,"a":26.3},{"c":"STR","d":"2017-03","r":28.9,"a":26.2},{"c":"STR","d":"2017-04","r":23.8,"a":26.6},{"c":"STR","d":"2017-05","r":27.1,"a":25.9},{"c":"STR","d":"2017-06","r":26.6,"a":26.6},{"c":"STR","d":"2017-07","r":25.7,"a":26.3},{"c":"STR","d":"2017-08","r":27.8,"a":26.1},{"c":"STR","d":"2017-09","r":25.5,"a":25.9},{"c":"STR","d":"2017-10","r":25.5,"a":25.5},{"c":"STR","d":"2017-11","r":24.7,"a":25.1},{"c":"STR","d":"2017-12","r":24.7,"a":26.3},
{"c":"STR","d":"2018-01","r":30.3,"a":26.3},{"c":"STR","d":"2018-02","r":26.0,"a":27.6},{"c":"STR","d":"2018-03","r":28.0,"a":27.8},{"c":"STR","d":"2018-04","r":26.5,"a":27.0},{"c":"STR","d":"2018-05","r":27.0,"a":26.8},{"c":"STR","d":"2018-06","r":25.0,"a":26.3},{"c":"STR","d":"2018-07","r":25.0,"a":26.2},{"c":"STR","d":"2018-08","r":27.0,"a":27.0},{"c":"STR","d":"2018-09","r":28.5,"a":27.5},{"c":"STR","d":"2018-10","r":27.0,"a":27.8},{"c":"STR","d":"2018-11","r":28.5,"a":27.6},{"c":"STR","d":"2018-12","r":27.5,"a":26.8},
{"c":"STR","d":"2019-01","r":25.5,"a":26.5},{"c":"STR","d":"2019-02","r":26.5,"a":26.3},{"c":"STR","d":"2019-03","r":27.0,"a":26.5},{"c":"STR","d":"2019-04","r":26.0,"a":26.2},{"c":"STR","d":"2019-05","r":25.5,"a":26.2},{"c":"STR","d":"2019-06","r":27.0,"a":26.4},{"c":"STR","d":"2019-07","r":25.5,"a":26.2},{"c":"STR","d":"2019-08","r":26.5,"a":26.6},{"c":"STR","d":"2019-09","r":27.0,"a":27.0},{"c":"STR","d":"2019-10","r":28.0,"a":27.4},{"c":"STR","d":"2019-11","r":27.0,"a":27.5},{"c":"STR","d":"2019-12","r":27.5,"a":27.3},
{"c":"STR","d":"2020-01","r":29.0,"a":25.9},{"c":"STR","d":"2020-02","r":24.6,"a":24.3},{"c":"STR","d":"2020-03","r":24.2,"a":23.3},{"c":"STR","d":"2020-04","r":19.6,"a":23.1},{"c":"STR","d":"2020-05","r":24.3,"a":23.5},{"c":"STR","d":"2020-06","r":24.3,"a":24.4},{"c":"STR","d":"2020-07","r":25.9,"a":24.6},{"c":"STR","d":"2020-08","r":23.8,"a":24.6},{"c":"STR","d":"2020-09","r":25.1,"a":24.7},{"c":"STR","d":"2020-10","r":24.1,"a":25.0},{"c":"STR","d":"2020-11","r":25.6,"a":24.8},{"c":"STR","d":"2020-12","r":25.7,"a":24.7},
{"c":"STR","d":"2021-01","r":24.6,"a":24.7},{"c":"STR","d":"2021-02","r":23.4,"a":24.8},{"c":"STR","d":"2021-03","r":25.9,"a":25.5},{"c":"STR","d":"2021-04","r":25.9,"a":25.9},{"c":"STR","d":"2021-05","r":27.3,"a":26.0},{"c":"STR","d":"2021-06","r":24.4,"a":26.2},{"c":"STR","d":"2021-07","r":26.3,"a":25.4},{"c":"STR","d":"2021-08","r":26.7,"a":25.4},{"c":"STR","d":"2021-09","r":23.4,"a":24.8},{"c":"STR","d":"2021-10","r":24.8,"a":23.8},{"c":"STR","d":"2021-11","r":25.2,"a":23.7},{"c":"STR","d":"2021-12","r":21.4,"a":23.3},
{"c":"HTN","d":"2015-01","r":97,"a":96},{"c":"HTN","d":"2015-02","r":93,"a":94},{"c":"HTN","d":"2015-03","r":103,"a":92},{"c":"HTN","d":"2015-04","r":91,"a":91},{"c":"HTN","d":"2015-05","r":89,"a":90.5},{"c":"HTN","d":"2015-06","r":91,"a":89},{"c":"HTN","d":"2015-07","r":78,"a":88},{"c":"HTN","d":"2015-08","r":87,"a":88},{"c":"HTN","d":"2015-09","r":90,"a":89},{"c":"HTN","d":"2015-10","r":92,"a":90.5},{"c":"HTN","d":"2015-11","r":93,"a":92},{"c":"HTN","d":"2015-12","r":93,"a":93.5},
{"c":"HTN","d":"2016-01","r":96,"a":96},{"c":"HTN","d":"2016-02","r":100,"a":97},{"c":"HTN","d":"2016-03","r":101,"a":95.5},{"c":"HTN","d":"2016-04","r":94,"a":92},{"c":"HTN","d":"2016-05","r":87,"a":88.5},{"c":"HTN","d":"2016-06","r":84,"a":86},{"c":"HTN","d":"2016-07","r":85,"a":85.5},{"c":"HTN","d":"2016-08","r":86,"a":87},{"c":"HTN","d":"2016-09","r":90,"a":89},{"c":"HTN","d":"2016-10","r":93,"a":91},{"c":"HTN","d":"2016-11","r":95,"a":92.5},{"c":"HTN","d":"2016-12","r":93,"a":94},
{"c":"HTN","d":"2017-01","r":97,"a":94},{"c":"HTN","d":"2017-02","r":91,"a":92.5},{"c":"HTN","d":"2017-03","r":92,"a":91},{"c":"HTN","d":"2017-04","r":80,"a":88},{"c":"HTN","d":"2017-05","r":84,"a":85},{"c":"HTN","d":"2017-06","r":82,"a":83.5},{"c":"HTN","d":"2017-07","r":82,"a":82.5},{"c":"HTN","d":"2017-08","r":83,"a":84},{"c":"HTN","d":"2017-09","r":88,"a":86},{"c":"HTN","d":"2017-10","r":90,"a":88},{"c":"HTN","d":"2017-11","r":93,"a":90},{"c":"HTN","d":"2017-12","r":92,"a":90.5},
{"c":"HTN","d":"2018-01","r":96,"a":90.5},{"c":"HTN","d":"2018-02","r":95,"a":92},{"c":"HTN","d":"2018-03","r":92,"a":92.5},{"c":"HTN","d":"2018-04","r":90,"a":92},{"c":"HTN","d":"2018-05","r":88,"a":90},{"c":"HTN","d":"2018-06","r":85,"a":87},{"c":"HTN","d":"2018-07","r":84,"a":84.5},{"c":"HTN","d":"2018-08","r":86,"a":85},{"c":"HTN","d":"2018-09","r":92,"a":88},{"c":"HTN","d":"2018-10","r":102,"a":91.5},{"c":"HTN","d":"2018-11","r":98,"a":93},{"c":"HTN","d":"2018-12","r":93,"a":94},
{"c":"HTN","d":"2019-01","r":90,"a":95},{"c":"HTN","d":"2019-02","r":106,"a":96},{"c":"HTN","d":"2019-03","r":92,"a":95.5},{"c":"HTN","d":"2019-04","r":92,"a":93.5},{"c":"HTN","d":"2019-05","r":88,"a":90.5},{"c":"HTN","d":"2019-06","r":86,"a":88},{"c":"HTN","d":"2019-07","r":86,"a":86.5},{"c":"HTN","d":"2019-08","r":89,"a":87.5},{"c":"HTN","d":"2019-09","r":94,"a":89},{"c":"HTN","d":"2019-10","r":96,"a":91},{"c":"HTN","d":"2019-11","r":89,"a":93},{"c":"HTN","d":"2019-12","r":96,"a":93},
{"c":"HTN","d":"2020-01","r":100.7,"a":99.5},{"c":"HTN","d":"2020-02","r":93.7,"a":92.5},{"c":"HTN","d":"2020-03","r":76.1,"a":78.4},{"c":"HTN","d":"2020-04","r":31.5,"a":57.3},{"c":"HTN","d":"2020-05","r":38.5,"a":43.2},{"c":"HTN","d":"2020-06","r":43.7,"a":45.6},{"c":"HTN","d":"2020-07","r":55.4,"a":50.3},{"c":"HTN","d":"2020-08","r":47.9,"a":56.1},{"c":"HTN","d":"2020-09","r":62.0,"a":60.8},{"c":"HTN","d":"2020-10","r":64.8,"a":64.3},{"c":"HTN","d":"2020-11","r":64.8,"a":65.5},{"c":"HTN","d":"2020-12","r":66.2,"a":66.2},
{"c":"HTN","d":"2021-01","r":63.8,"a":69.5},{"c":"HTN","d":"2021-02","r":71.4,"a":73.7},{"c":"HTN","d":"2021-03","r":85.0,"a":79.6},{"c":"HTN","d":"2021-04","r":81.2,"a":81.9},{"c":"HTN","d":"2021-05","r":81.2,"a":78.9},{"c":"HTN","d":"2021-06","r":81.2,"a":76.5},{"c":"HTN","d":"2021-07","r":70.2,"a":75.6},{"c":"HTN","d":"2021-08","r":71.4,"a":74.9},{"c":"HTN","d":"2021-09","r":76.5,"a":77.9},{"c":"HTN","d":"2021-10","r":76.5,"a":78.9},{"c":"HTN","d":"2021-11","r":86.6,"a":80.3},{"c":"HTN","d":"2021-12","r":76.5,"a":81.9}
],
"pred":[
{"c":"AST","d":"2020-01","p":50.6,"lo":45.6,"hi":56.1},{"c":"AST","d":"2020-02","p":43.2,"lo":38.2,"hi":48.7},{"c":"AST","d":"2020-03","p":43.8,"lo":38.8,"hi":49.3},{"c":"AST","d":"2020-04","p":38.5,"lo":33.5,"hi":44.0},{"c":"AST","d":"2020-05","p":43.0,"lo":38.0,"hi":48.5},{"c":"AST","d":"2020-06","p":40.6,"lo":35.6,"hi":46.1},{"c":"AST","d":"2020-07","p":40.1,"lo":35.1,"hi":45.6},{"c":"AST","d":"2020-08","p":36.9,"lo":31.9,"hi":42.4},{"c":"AST","d":"2020-09","p":44.1,"lo":39.1,"hi":49.6},{"c":"AST","d":"2020-10","p":48.0,"lo":43.0,"hi":53.5},{"c":"AST","d":"2020-11","p":47.5,"lo":42.5,"hi":53.0},{"c":"AST","d":"2020-12","p":40.3,"lo":35.3,"hi":45.8},
{"c":"AST","d":"2021-01","p":49.0,"lo":44.0,"hi":54.5},{"c":"AST","d":"2021-02","p":39.5,"lo":34.5,"hi":45.0},{"c":"AST","d":"2021-03","p":42.7,"lo":37.7,"hi":48.2},{"c":"AST","d":"2021-04","p":39.5,"lo":34.5,"hi":45.0},{"c":"AST","d":"2021-05","p":42.0,"lo":37.0,"hi":47.5},{"c":"AST","d":"2021-06","p":39.2,"lo":34.2,"hi":44.7},{"c":"AST","d":"2021-07","p":38.0,"lo":33.0,"hi":43.5},{"c":"AST","d":"2021-08","p":38.5,"lo":33.5,"hi":44.0},{"c":"AST","d":"2021-09","p":43.8,"lo":38.8,"hi":49.3},{"c":"AST","d":"2021-10","p":47.0,"lo":42.0,"hi":52.5},{"c":"AST","d":"2021-11","p":46.4,"lo":41.4,"hi":51.9},{"c":"AST","d":"2021-12","p":39.0,"lo":34.0,"hi":44.5},
{"c":"COPD","d":"2020-01","p":43.8,"lo":39.3,"hi":48.3},{"c":"COPD","d":"2020-02","p":38.1,"lo":33.6,"hi":42.6},{"c":"COPD","d":"2020-03","p":39.5,"lo":35.0,"hi":44.0},{"c":"COPD","d":"2020-04","p":37.1,"lo":32.6,"hi":41.6},{"c":"COPD","d":"2020-05","p":36.6,"lo":32.1,"hi":41.1},{"c":"COPD","d":"2020-06","p":35.8,"lo":31.3,"hi":40.3},{"c":"COPD","d":"2020-07","p":35.5,"lo":31.0,"hi":40.0},{"c":"COPD","d":"2020-08","p":33.9,"lo":29.4,"hi":38.4},{"c":"COPD","d":"2020-09","p":35.2,"lo":30.7,"hi":39.7},{"c":"COPD","d":"2020-10","p":38.3,"lo":33.8,"hi":42.8},{"c":"COPD","d":"2020-11","p":37.8,"lo":33.3,"hi":42.3},{"c":"COPD","d":"2020-12","p":37.1,"lo":32.6,"hi":41.6},
{"c":"COPD","d":"2021-01","p":44.3,"lo":39.8,"hi":48.8},{"c":"COPD","d":"2021-02","p":40.4,"lo":35.9,"hi":44.9},{"c":"COPD","d":"2021-03","p":40.0,"lo":35.5,"hi":44.5},{"c":"COPD","d":"2021-04","p":37.6,"lo":33.1,"hi":42.1},{"c":"COPD","d":"2021-05","p":36.8,"lo":32.3,"hi":41.3},{"c":"COPD","d":"2021-06","p":35.7,"lo":31.2,"hi":40.2},{"c":"COPD","d":"2021-07","p":35.7,"lo":31.2,"hi":40.2},{"c":"COPD","d":"2021-08","p":34.2,"lo":29.7,"hi":38.7},{"c":"COPD","d":"2021-09","p":36.1,"lo":31.6,"hi":40.6},{"c":"COPD","d":"2021-10","p":39.3,"lo":34.8,"hi":43.8},{"c":"COPD","d":"2021-11","p":38.7,"lo":34.2,"hi":43.2},{"c":"COPD","d":"2021-12","p":37.4,"lo":32.9,"hi":41.9},
{"c":"AF","d":"2020-01","p":59.3,"lo":54.3,"hi":64.3},{"c":"AF","d":"2020-02","p":55.3,"lo":50.1,"hi":60.5},{"c":"AF","d":"2020-03","p":56.8,"lo":51.5,"hi":62.1},{"c":"AF","d":"2020-04","p":52.4,"lo":46.9,"hi":57.9},{"c":"AF","d":"2020-05","p":53.9,"lo":48.2,"hi":59.6},{"c":"AF","d":"2020-06","p":51.4,"lo":45.5,"hi":57.3},{"c":"AF","d":"2020-07","p":53.9,"lo":47.9,"hi":59.9},{"c":"AF","d":"2020-08","p":53.7,"lo":47.5,"hi":59.9},{"c":"AF","d":"2020-09","p":53.7,"lo":47.3,"hi":60.1},{"c":"AF","d":"2020-10","p":57.3,"lo":50.8,"hi":63.8},{"c":"AF","d":"2020-11","p":54.4,"lo":47.7,"hi":61.1},{"c":"AF","d":"2020-12","p":54.4,"lo":47.5,"hi":61.3},
{"c":"AF","d":"2021-01","p":60.3,"lo":53.3,"hi":67.3},{"c":"AF","d":"2021-02","p":53.4,"lo":46.2,"hi":60.6},{"c":"AF","d":"2021-03","p":57.8,"lo":50.4,"hi":65.2},{"c":"AF","d":"2021-04","p":54.9,"lo":47.3,"hi":62.5},{"c":"AF","d":"2021-05","p":53.4,"lo":45.7,"hi":61.1},{"c":"AF","d":"2021-06","p":54.9,"lo":47.0,"hi":62.8},{"c":"AF","d":"2021-07","p":54.4,"lo":46.3,"hi":62.5},{"c":"AF","d":"2021-08","p":54.4,"lo":46.2,"hi":62.6},{"c":"AF","d":"2021-09","p":53.9,"lo":45.5,"hi":62.3},{"c":"AF","d":"2021-10","p":57.8,"lo":49.2,"hi":66.4},{"c":"AF","d":"2021-11","p":54.9,"lo":46.2,"hi":63.6},{"c":"AF","d":"2021-12","p":54.7,"lo":45.8,"hi":63.6},
{"c":"CHD","d":"2020-01","p":35.8,"lo":32.3,"hi":39.3},{"c":"CHD","d":"2020-02","p":32.9,"lo":29.4,"hi":36.4},{"c":"CHD","d":"2020-03","p":31.6,"lo":28.0,"hi":35.2},{"c":"CHD","d":"2020-04","p":32.6,"lo":29.0,"hi":36.2},{"c":"CHD","d":"2020-05","p":33.2,"lo":29.5,"hi":36.9},{"c":"CHD","d":"2020-06","p":32.6,"lo":28.9,"hi":36.3},{"c":"CHD","d":"2020-07","p":31.6,"lo":27.8,"hi":35.4},{"c":"CHD","d":"2020-08","p":33.2,"lo":29.4,"hi":37.0},{"c":"CHD","d":"2020-09","p":34.2,"lo":30.4,"hi":38.0},{"c":"CHD","d":"2020-10","p":31.0,"lo":27.1,"hi":34.9},{"c":"CHD","d":"2020-11","p":32.9,"lo":29.0,"hi":36.8},{"c":"CHD","d":"2020-12","p":31.3,"lo":27.3,"hi":35.3},
{"c":"CHD","d":"2021-01","p":34.9,"lo":30.9,"hi":38.9},{"c":"CHD","d":"2021-02","p":33.2,"lo":29.1,"hi":37.3},{"c":"CHD","d":"2021-03","p":32.3,"lo":28.2,"hi":36.4},{"c":"CHD","d":"2021-04","p":31.9,"lo":27.8,"hi":36.0},{"c":"CHD","d":"2021-05","p":31.6,"lo":27.4,"hi":35.8},{"c":"CHD","d":"2021-06","p":33.2,"lo":29.0,"hi":37.4},{"c":"CHD","d":"2021-07","p":32.3,"lo":28.0,"hi":36.6},{"c":"CHD","d":"2021-08","p":30.3,"lo":26.0,"hi":34.6},{"c":"CHD","d":"2021-09","p":32.9,"lo":28.5,"hi":37.3},{"c":"CHD","d":"2021-10","p":33.9,"lo":29.5,"hi":38.3},{"c":"CHD","d":"2021-11","p":31.9,"lo":27.5,"hi":36.3},{"c":"CHD","d":"2021-12","p":30.0,"lo":25.5,"hi":34.5},
{"c":"HF","d":"2020-01","p":38.5,"lo":35.0,"hi":42.0},{"c":"HF","d":"2020-02","p":35.5,"lo":31.9,"hi":39.1},{"c":"HF","d":"2020-03","p":35.0,"lo":31.3,"hi":38.7},{"c":"HF","d":"2020-04","p":36.5,"lo":32.7,"hi":40.3},{"c":"HF","d":"2020-05","p":34.5,"lo":30.7,"hi":38.3},{"c":"HF","d":"2020-06","p":35.5,"lo":31.6,"hi":39.4},{"c":"HF","d":"2020-07","p":36.0,"lo":32.0,"hi":40.0},{"c":"HF","d":"2020-08","p":33.5,"lo":29.4,"hi":37.6},{"c":"HF","d":"2020-09","p":35.0,"lo":30.8,"hi":39.2},{"c":"HF","d":"2020-10","p":34.0,"lo":29.7,"hi":38.3},{"c":"HF","d":"2020-11","p":36.5,"lo":32.1,"hi":40.9},{"c":"HF","d":"2020-12","p":34.0,"lo":29.5,"hi":38.5},
{"c":"HF","d":"2021-01","p":40.5,"lo":36.0,"hi":45.0},{"c":"HF","d":"2021-02","p":37.5,"lo":32.9,"hi":42.1},{"c":"HF","d":"2021-03","p":38.0,"lo":33.3,"hi":42.7},{"c":"HF","d":"2021-04","p":36.0,"lo":31.2,"hi":40.8},{"c":"HF","d":"2021-05","p":37.0,"lo":32.1,"hi":41.9},{"c":"HF","d":"2021-06","p":37.0,"lo":32.0,"hi":42.0},{"c":"HF","d":"2021-07","p":35.5,"lo":30.4,"hi":40.6},{"c":"HF","d":"2021-08","p":38.5,"lo":33.3,"hi":43.7},{"c":"HF","d":"2021-09","p":37.0,"lo":31.8,"hi":42.2},{"c":"HF","d":"2021-10","p":37.5,"lo":32.2,"hi":42.8},{"c":"HF","d":"2021-11","p":36.0,"lo":30.6,"hi":41.4},{"c":"HF","d":"2021-12","p":36.5,"lo":31.0,"hi":42.0},
{"c":"CKD","d":"2020-01","p":73,"lo":67.0,"hi":79.0},{"c":"CKD","d":"2020-02","p":68,"lo":61.9,"hi":74.1},{"c":"CKD","d":"2020-03","p":68.5,"lo":62.2,"hi":74.8},{"c":"CKD","d":"2020-04","p":65,"lo":58.6,"hi":71.4},{"c":"CKD","d":"2020-05","p":70,"lo":63.5,"hi":76.5},{"c":"CKD","d":"2020-06","p":66,"lo":59.3,"hi":72.7},{"c":"CKD","d":"2020-07","p":70,"lo":63.2,"hi":76.8},{"c":"CKD","d":"2020-08","p":67.5,"lo":60.6,"hi":74.4},{"c":"CKD","d":"2020-09","p":64,"lo":57.0,"hi":71.0},{"c":"CKD","d":"2020-10","p":69,"lo":61.8,"hi":76.2},{"c":"CKD","d":"2020-11","p":70.5,"lo":63.2,"hi":77.8},{"c":"CKD","d":"2020-12","p":68,"lo":60.6,"hi":75.4},
{"c":"CKD","d":"2021-01","p":74,"lo":66.4,"hi":81.6},{"c":"CKD","d":"2021-02","p":69,"lo":61.3,"hi":76.7},{"c":"CKD","d":"2021-03","p":72,"lo":64.2,"hi":79.8},{"c":"CKD","d":"2021-04","p":67,"lo":59.0,"hi":75.0},{"c":"CKD","d":"2021-05","p":69,"lo":60.9,"hi":77.1},{"c":"CKD","d":"2021-06","p":70,"lo":61.8,"hi":78.2},{"c":"CKD","d":"2021-07","p":68.5,"lo":60.2,"hi":76.8},{"c":"CKD","d":"2021-08","p":66,"lo":57.5,"hi":74.5},{"c":"CKD","d":"2021-09","p":68,"lo":59.4,"hi":76.6},{"c":"CKD","d":"2021-10","p":70,"lo":61.3,"hi":78.7},{"c":"CKD","d":"2021-11","p":71,"lo":62.1,"hi":79.9},{"c":"CKD","d":"2021-12","p":74,"lo":65.0,"hi":83.0},
{"c":"DEM","d":"2020-01","p":50.0,"lo":45.5,"hi":54.5},{"c":"DEM","d":"2020-02","p":47.0,"lo":42.4,"hi":51.6},{"c":"DEM","d":"2020-03","p":46.5,"lo":41.8,"hi":51.2},{"c":"DEM","d":"2020-04","p":45.0,"lo":40.2,"hi":49.8},{"c":"DEM","d":"2020-05","p":47.5,"lo":42.7,"hi":52.3},{"c":"DEM","d":"2020-06","p":45.0,"lo":40.1,"hi":49.9},{"c":"DEM","d":"2020-07","p":46.0,"lo":41.0,"hi":51.0},{"c":"DEM","d":"2020-08","p":45.0,"lo":39.9,"hi":50.1},{"c":"DEM","d":"2020-09","p":47.5,"lo":42.3,"hi":52.7},{"c":"DEM","d":"2020-10","p":44.5,"lo":39.2,"hi":49.8},{"c":"DEM","d":"2020-11","p":47.0,"lo":41.6,"hi":52.4},{"c":"DEM","d":"2020-12","p":45.5,"lo":40.0,"hi":51.0},
{"c":"DEM","d":"2021-01","p":47.0,"lo":41.5,"hi":52.5},{"c":"DEM","d":"2021-02","p":49.0,"lo":43.4,"hi":54.6},{"c":"DEM","d":"2021-03","p":51.0,"lo":45.3,"hi":56.7},{"c":"DEM","d":"2021-04","p":47.5,"lo":41.7,"hi":53.3},{"c":"DEM","d":"2021-05","p":50.0,"lo":44.1,"hi":55.9},{"c":"DEM","d":"2021-06","p":46.5,"lo":40.5,"hi":52.5},{"c":"DEM","d":"2021-07","p":48.5,"lo":42.4,"hi":54.6},{"c":"DEM","d":"2021-08","p":46.0,"lo":39.8,"hi":52.2},{"c":"DEM","d":"2021-09","p":48.0,"lo":41.8,"hi":54.2},{"c":"DEM","d":"2021-10","p":51.0,"lo":44.7,"hi":57.3},{"c":"DEM","d":"2021-11","p":48.5,"lo":42.1,"hi":54.9},{"c":"DEM","d":"2021-12","p":49.0,"lo":42.5,"hi":55.5},
{"c":"PVD","d":"2020-01","p":18.7,"lo":16.9,"hi":20.5},{"c":"PVD","d":"2020-02","p":17.0,"lo":15.2,"hi":18.8},{"c":"PVD","d":"2020-03","p":18.0,"lo":16.1,"hi":19.9},{"c":"PVD","d":"2020-04","p":17.5,"lo":15.6,"hi":19.4},{"c":"PVD","d":"2020-05","p":18.5,"lo":16.6,"hi":20.4},{"c":"PVD","d":"2020-06","p":17.0,"lo":15.1,"hi":18.9},{"c":"PVD","d":"2020-07","p":18.0,"lo":16.0,"hi":20.0},{"c":"PVD","d":"2020-08","p":18.5,"lo":16.5,"hi":20.5},{"c":"PVD","d":"2020-09","p":17.0,"lo":15.0,"hi":19.0},{"c":"PVD","d":"2020-10","p":18.5,"lo":16.4,"hi":20.6},{"c":"PVD","d":"2020-11","p":17.5,"lo":15.4,"hi":19.6},{"c":"PVD","d":"2020-12","p":19.0,"lo":16.9,"hi":21.1},
{"c":"PVD","d":"2021-01","p":18.0,"lo":15.8,"hi":20.2},{"c":"PVD","d":"2021-02","p":17.5,"lo":15.3,"hi":19.7},{"c":"PVD","d":"2021-03","p":19.0,"lo":16.8,"hi":21.2},{"c":"PVD","d":"2021-04","p":18.0,"lo":15.7,"hi":20.3},{"c":"PVD","d":"2021-05","p":17.5,"lo":15.2,"hi":19.8},{"c":"PVD","d":"2021-06","p":19.0,"lo":16.7,"hi":21.3},{"c":"PVD","d":"2021-07","p":18.0,"lo":15.7,"hi":20.3},{"c":"PVD","d":"2021-08","p":18.5,"lo":16.1,"hi":20.9},{"c":"PVD","d":"2021-09","p":17.5,"lo":15.1,"hi":19.9},{"c":"PVD","d":"2021-10","p":18.0,"lo":15.6,"hi":20.4},{"c":"PVD","d":"2021-11","p":17.8,"lo":15.3,"hi":20.3},{"c":"PVD","d":"2021-12","p":16.5,"lo":14.0,"hi":19.0},
{"c":"STR","d":"2020-01","p":28.5,"lo":26.0,"hi":31.0},{"c":"STR","d":"2020-02","p":27.0,"lo":24.4,"hi":29.6},{"c":"STR","d":"2020-03","p":26.5,"lo":23.9,"hi":29.1},{"c":"STR","d":"2020-04","p":27.0,"lo":24.3,"hi":29.7},{"c":"STR","d":"2020-05","p":26.0,"lo":23.2,"hi":28.8},{"c":"STR","d":"2020-06","p":27.0,"lo":24.2,"hi":29.8},{"c":"STR","d":"2020-07","p":26.5,"lo":23.6,"hi":29.4},{"c":"STR","d":"2020-08","p":27.5,"lo":24.5,"hi":30.5},{"c":"STR","d":"2020-09","p":26.0,"lo":23.0,"hi":29.0},{"c":"STR","d":"2020-10","p":27.5,"lo":24.4,"hi":30.6},{"c":"STR","d":"2020-11","p":27.0,"lo":23.8,"hi":30.2},{"c":"STR","d":"2020-12","p":27.0,"lo":23.8,"hi":30.2},
{"c":"STR","d":"2021-01","p":28.0,"lo":24.7,"hi":31.3},{"c":"STR","d":"2021-02","p":26.5,"lo":23.2,"hi":29.8},{"c":"STR","d":"2021-03","p":27.0,"lo":23.6,"hi":30.4},{"c":"STR","d":"2021-04","p":28.0,"lo":24.5,"hi":31.5},{"c":"STR","d":"2021-05","p":27.5,"lo":24.0,"hi":31.0},{"c":"STR","d":"2021-06","p":26.0,"lo":22.4,"hi":29.6},{"c":"STR","d":"2021-07","p":27.0,"lo":23.3,"hi":30.7},{"c":"STR","d":"2021-08","p":27.5,"lo":23.8,"hi":31.2},{"c":"STR","d":"2021-09","p":26.5,"lo":22.7,"hi":30.3},{"c":"STR","d":"2021-10","p":28.0,"lo":24.1,"hi":31.9},{"c":"STR","d":"2021-11","p":27.0,"lo":23.1,"hi":30.9},{"c":"STR","d":"2021-12","p":26.5,"lo":22.5,"hi":30.5},
{"c":"HTN","d":"2020-01","p":101.9,"lo":91.9,"hi":111.9},{"c":"HTN","d":"2020-02","p":96.0,"lo":85.8,"hi":106.2},{"c":"HTN","d":"2020-03","p":104.7,"lo":94.4,"hi":115.0},{"c":"HTN","d":"2020-04","p":93.7,"lo":83.2,"hi":104.2},{"c":"HTN","d":"2020-05","p":93.7,"lo":83.0,"hi":104.4},{"c":"HTN","d":"2020-06","p":88.9,"lo":78.0,"hi":99.8},{"c":"HTN","d":"2020-07","p":87.8,"lo":76.8,"hi":98.8},{"c":"HTN","d":"2020-08","p":83.6,"lo":72.4,"hi":94.8},{"c":"HTN","d":"2020-09","p":90.1,"lo":78.7,"hi":101.5},{"c":"HTN","d":"2020-10","p":97.7,"lo":86.1,"hi":109.3},{"c":"HTN","d":"2020-11","p":97.7,"lo":86.0,"hi":109.4},{"c":"HTN","d":"2020-12","p":90.1,"lo":78.2,"hi":102.0},
{"c":"HTN","d":"2021-01","p":98.4,"lo":86.3,"hi":110.5},{"c":"HTN","d":"2021-02","p":93.7,"lo":81.4,"hi":106.0},{"c":"HTN","d":"2021-03","p":104.2,"lo":91.8,"hi":116.6},{"c":"HTN","d":"2021-04","p":93.7,"lo":81.1,"hi":106.3},{"c":"HTN","d":"2021-05","p":93.7,"lo":80.9,"hi":106.5},{"c":"HTN","d":"2021-06","p":88.9,"lo":75.9,"hi":101.9},{"c":"HTN","d":"2021-07","p":88.2,"lo":75.1,"hi":101.3},{"c":"HTN","d":"2021-08","p":83.6,"lo":70.3,"hi":96.9},{"c":"HTN","d":"2021-09","p":88.9,"lo":75.4,"hi":102.4},{"c":"HTN","d":"2021-10","p":97.2,"lo":83.5,"hi":110.9},{"c":"HTN","d":"2021-11","p":98.4,"lo":84.6,"hi":112.2},{"c":"HTN","d":"2021-12","p":88.2,"lo":74.2,"hi":102.2}
]
},
"spacing":3,
"vconcat":[
{"columns":2,"spacing":{"row":26,"column":14},"concat":[
{"title":"Asthma","width":612,"height":133,"data":{"name":"obs"},"transform":[{"filter":"datum.c==='AST'"},{"window":[{"op":"lead","field":"d","as":"d2"},{"op":"lead","field":"r","as":"r2"},{"op":"lead","field":"a","as":"a2"}],"sort":[{"field":"d"}]}],
"encoding":{"x":{"field":"d","type":"temporal","title":null,"scale":{"type":"utc","domain":[{"year":2014,"month":11,"date":28,"utc":true},{"year":2021,"month":12,"date":18,"utc":true}]},"axis":null}},
"layer":[
{"data":{"name":"pred"},"transform":[{"filter":"datum.c==='AST'"}],"mark":{"type":"area","color":"#c2c2c2","opacity":0.6},"encoding":{"y":{"field":"lo","type":"quantitative","title":null,"scale":{"domain":[16.5,58.5],"nice":false,"zero":false},"axis":{"values":[20,30,40,50]}},"y2":{"field":"hi"}}},
{"data":{"name":"cut"},"mark":{"type":"rule","color":"#9d9d9d","strokeWidth":2.2,"strokeDash":[6,5]},"encoding":{}},
{"transform":[{"filter":"datum.d2 != null"}],"mark":{"type":"rule","strokeCap":"round","strokeWidth":2},"encoding":{"x2":{"field":"d2"},"y":{"field":"r","type":"quantitative","title":null},"y2":{"field":"r2"},"color":{"field":"d","timeUnit":"utcyear","type":"ordinal","scale":{"range":["#fbefc0","#a6cbb9","#b5d5c6","#93bca5","#8acbe1","#5f78b3","#cda2dc"]},"legend":null}}},
{"mark":{"type":"circle","size":26,"color":"#a4a4a4","opacity":1},"encoding":{"y":{"field":"r","type":"quantitative","title":null}}},
{"data":{"name":"pred"},"transform":[{"filter":"datum.c==='AST'"}],"mark":{"type":"line","color":"#8f8f8f","strokeWidth":2,"strokeDash":[5,3]},"encoding":{"y":{"field":"p","type":"quantitative","title":null}}},
{"data":{"name":"pred"},"transform":[{"filter":"datum.c==='AST'"}],"mark":{"type":"point","shape":"triangle-up","filled":true,"size":32,"color":"#8f8f8f","opacity":1},"encoding":{"y":{"field":"p","type":"quantitative","title":null}}},
{"transform":[{"filter":"datum.d2 != null"}],"mark":{"type":"rule","strokeCap":"round","strokeWidth":3},"encoding":{"x2":{"field":"d2"},"y":{"field":"a","type":"quantitative","title":null},"y2":{"field":"a2"},"stroke":{"field":"d","timeUnit":"utcyear","type":"ordinal","scale":{"range":["#f9c323","#2a8963","#54a184","#0b6b3e","#1089b6","#163e7b","#7b3295"]},"legend":null}}}
]},
{"title":{"text":"COPD","dy":6},"width":612,"height":133,"data":{"name":"obs"},"transform":[{"filter":"datum.c==='COPD'"},{"window":[{"op":"lead","field":"d","as":"d2"},{"op":"lead","field":"r","as":"r2"},{"op":"lead","field":"a","as":"a2"}],"sort":[{"field":"d"}]}],
"encoding":{"x":{"field":"d","type":"temporal","title":null,"scale":{"type":"utc","domain":[{"year":2014,"month":11,"date":28,"utc":true},{"year":2021,"month":12,"date":18,"utc":true}]},"axis":null}},
"layer":[
{"data":{"name":"pred"},"transform":[{"filter":"datum.c==='COPD'"}],"mark":{"type":"area","color":"#c2c2c2","opacity":0.6},"encoding":{"y":{"field":"lo","type":"quantitative","title":null,"scale":{"domain":[12.1,50.2],"nice":false,"zero":false},"axis":{"values":[20,30,40,50]}},"y2":{"field":"hi"}}},
{"data":{"name":"cut"},"mark":{"type":"rule","color":"#9d9d9d","strokeWidth":2.2,"strokeDash":[6,5]},"encoding":{}},
{"transform":[{"filter":"datum.d2 != null"}],"mark":{"type":"rule","strokeCap":"round","strokeWidth":2},"encoding":{"x2":{"field":"d2"},"y":{"field":"r","type":"quantitative","title":null},"y2":{"field":"r2"},"color":{"field":"d","timeUnit":"utcyear","type":"ordinal","legend":null}}},
{"mark":{"type":"circle","size":26,"color":"#a4a4a4","opacity":1},"encoding":{"y":{"field":"r","type":"quantitative","title":null}}},
{"data":{"name":"pred"},"transform":[{"filter":"datum.c==='COPD'"}],"mark":{"type":"line","color":"#8f8f8f","strokeWidth":2,"strokeDash":[5,3]},"encoding":{"y":{"field":"p","type":"quantitative","title":null}}},
{"data":{"name":"pred"},"transform":[{"filter":"datum.c==='COPD'"}],"mark":{"type":"point","shape":"triangle-up","filled":true,"size":32,"color":"#8f8f8f","opacity":1},"encoding":{"y":{"field":"p","type":"quantitative","title":null}}},
{"transform":[{"filter":"datum.d2 != null"}],"mark":{"type":"rule","strokeCap":"round","strokeWidth":3},"encoding":{"x2":{"field":"d2"},"y":{"field":"a","type":"quantitative","title":null},"y2":{"field":"a2"},"stroke":{"field":"d","timeUnit":"utcyear","type":"ordinal","legend":null}}}
]},
{"title":"Atrial fibrillation","width":612,"height":133,"data":{"name":"obs"},"transform":[{"filter":"datum.c==='AF'"},{"window":[{"op":"lead","field":"d","as":"d2"},{"op":"lead","field":"r","as":"r2"},{"op":"lead","field":"a","as":"a2"}],"sort":[{"field":"d"}]}],
"encoding":{"x":{"field":"d","type":"temporal","title":null,"scale":{"type":"utc","domain":[{"year":2014,"month":11,"date":28,"utc":true},{"year":2021,"month":12,"date":18,"utc":true}]},"axis":null}},
"layer":[
{"data":{"name":"pred"},"transform":[{"filter":"datum.c==='AF'"}],"mark":{"type":"area","color":"#c2c2c2","opacity":0.6},"encoding":{"y":{"field":"lo","type":"quantitative","title":null,"scale":{"domain":[29.9,69.1],"nice":false,"zero":false},"axis":{"values":[40,50,60]}},"y2":{"field":"hi"}}},
{"data":{"name":"cut"},"mark":{"type":"rule","color":"#9d9d9d","strokeWidth":2.2,"strokeDash":[6,5]},"encoding":{}},
{"transform":[{"filter":"datum.d2 != null"}],"mark":{"type":"rule","strokeCap":"round","strokeWidth":2},"encoding":{"x2":{"field":"d2"},"y":{"field":"r","type":"quantitative","title":null},"y2":{"field":"r2"},"color":{"field":"d","timeUnit":"utcyear","type":"ordinal","legend":null}}},
{"mark":{"type":"circle","size":26,"color":"#a4a4a4","opacity":1},"encoding":{"y":{"field":"r","type":"quantitative","title":null}}},
{"data":{"name":"pred"},"transform":[{"filter":"datum.c==='AF'"}],"mark":{"type":"line","color":"#8f8f8f","strokeWidth":2,"strokeDash":[5,3]},"encoding":{"y":{"field":"p","type":"quantitative","title":null}}},
{"data":{"name":"pred"},"transform":[{"filter":"datum.c==='AF'"}],"mark":{"type":"point","shape":"triangle-up","filled":true,"size":32,"color":"#8f8f8f","opacity":1},"encoding":{"y":{"field":"p","type":"quantitative","title":null}}},
{"transform":[{"filter":"datum.d2 != null"}],"mark":{"type":"rule","strokeCap":"round","strokeWidth":3},"encoding":{"x2":{"field":"d2"},"y":{"field":"a","type":"quantitative","title":null},"y2":{"field":"a2"},"stroke":{"field":"d","timeUnit":"utcyear","type":"ordinal","legend":null}}}
]},
{"title":"Coronary heart disease","width":612,"height":133,"data":{"name":"obs"},"transform":[{"filter":"datum.c==='CHD'"},{"window":[{"op":"lead","field":"d","as":"d2"},{"op":"lead","field":"r","as":"r2"},{"op":"lead","field":"a","as":"a2"}],"sort":[{"field":"d"}]}],
"encoding":{"x":{"field":"d","type":"temporal","title":null,"scale":{"type":"utc","domain":[{"year":2014,"month":11,"date":28,"utc":true},{"year":2021,"month":12,"date":18,"utc":true}]},"axis":null}},
"layer":[
{"data":{"name":"pred"},"transform":[{"filter":"datum.c==='CHD'"}],"mark":{"type":"area","color":"#c2c2c2","opacity":0.6},"encoding":{"y":{"field":"lo","type":"quantitative","title":null,"scale":{"domain":[14.2,40.4],"nice":false,"zero":false},"axis":{"values":[15,20,25,30,35,40]}},"y2":{"field":"hi"}}},
{"data":{"name":"cut"},"mark":{"type":"rule","color":"#9d9d9d","strokeWidth":2.2,"strokeDash":[6,5]},"encoding":{}},
{"transform":[{"filter":"datum.d2 != null"}],"mark":{"type":"rule","strokeCap":"round","strokeWidth":2},"encoding":{"x2":{"field":"d2"},"y":{"field":"r","type":"quantitative","title":null},"y2":{"field":"r2"},"color":{"field":"d","timeUnit":"utcyear","type":"ordinal","legend":null}}},
{"mark":{"type":"circle","size":26,"color":"#a4a4a4","opacity":1},"encoding":{"y":{"field":"r","type":"quantitative","title":null}}},
{"data":{"name":"pred"},"transform":[{"filter":"datum.c==='CHD'"}],"mark":{"type":"line","color":"#8f8f8f","strokeWidth":2,"strokeDash":[5,3]},"encoding":{"y":{"field":"p","type":"quantitative","title":null}}},
{"data":{"name":"pred"},"transform":[{"filter":"datum.c==='CHD'"}],"mark":{"type":"point","shape":"triangle-up","filled":true,"size":32,"color":"#8f8f8f","opacity":1},"encoding":{"y":{"field":"p","type":"quantitative","title":null}}},
{"transform":[{"filter":"datum.d2 != null"}],"mark":{"type":"rule","strokeCap":"round","strokeWidth":3},"encoding":{"x2":{"field":"d2"},"y":{"field":"a","type":"quantitative","title":null},"y2":{"field":"a2"},"stroke":{"field":"d","timeUnit":"utcyear","type":"ordinal","legend":null}}}
]},
{"title":"Heart failure","width":612,"height":133,"data":{"name":"obs"},"transform":[{"filter":"datum.c==='HF'"},{"window":[{"op":"lead","field":"d","as":"d2"},{"op":"lead","field":"r","as":"r2"},{"op":"lead","field":"a","as":"a2"}],"sort":[{"field":"d"}]}],
"encoding":{"x":{"field":"d","type":"temporal","title":null,"scale":{"type":"utc","domain":[{"year":2014,"month":11,"date":28,"utc":true},{"year":2021,"month":12,"date":18,"utc":true}]},"axis":null}},
"layer":[
{"data":{"name":"pred"},"transform":[{"filter":"datum.c==='HF'"}],"mark":{"type":"area","color":"#c2c2c2","opacity":0.6},"encoding":{"y":{"field":"lo","type":"quantitative","title":null,"scale":{"domain":[18.5,47.4],"nice":false,"zero":false},"axis":{"values":[20,30,40]}},"y2":{"field":"hi"}}},
{"data":{"name":"cut"},"mark":{"type":"rule","color":"#9d9d9d","strokeWidth":2.2,"strokeDash":[6,5]},"encoding":{}},
{"transform":[{"filter":"datum.d2 != null"}],"mark":{"type":"rule","strokeCap":"round","strokeWidth":2},"encoding":{"x2":{"field":"d2"},"y":{"field":"r","type":"quantitative","title":null},"y2":{"field":"r2"},"color":{"field":"d","timeUnit":"utcyear","type":"ordinal","legend":null}}},
{"mark":{"type":"circle","size":26,"color":"#a4a4a4","opacity":1},"encoding":{"y":{"field":"r","type":"quantitative","title":null}}},
{"data":{"name":"pred"},"transform":[{"filter":"datum.c==='HF'"}],"mark":{"type":"line","color":"#8f8f8f","strokeWidth":2,"strokeDash":[5,3]},"encoding":{"y":{"field":"p","type":"quantitative","title":null}}},
{"data":{"name":"pred"},"transform":[{"filter":"datum.c==='HF'"}],"mark":{"type":"point","shape":"triangle-up","filled":true,"size":32,"color":"#8f8f8f","opacity":1},"encoding":{"y":{"field":"p","type":"quantitative","title":null}}},
{"transform":[{"filter":"datum.d2 != null"}],"mark":{"type":"rule","strokeCap":"round","strokeWidth":3},"encoding":{"x2":{"field":"d2"},"y":{"field":"a","type":"quantitative","title":null},"y2":{"field":"a2"},"stroke":{"field":"d","timeUnit":"utcyear","type":"ordinal","legend":null}}}
]},
{"title":"CKD","width":612,"height":133,"data":{"name":"obs"},"transform":[{"filter":"datum.c==='CKD'"},{"window":[{"op":"lead","field":"d","as":"d2"},{"op":"lead","field":"r","as":"r2"},{"op":"lead","field":"a","as":"a2"}],"sort":[{"field":"d"}]}],
"encoding":{"x":{"field":"d","type":"temporal","title":null,"scale":{"type":"utc","domain":[{"year":2014,"month":11,"date":28,"utc":true},{"year":2021,"month":12,"date":18,"utc":true}]},"axis":null}},
"layer":[
{"data":{"name":"pred"},"transform":[{"filter":"datum.c==='CKD'"}],"mark":{"type":"area","color":"#c2c2c2","opacity":0.6},"encoding":{"y":{"field":"lo","type":"quantitative","title":null,"scale":{"domain":[44.7,84.7],"nice":false,"zero":false},"axis":{"values":[45,55,65,75]}},"y2":{"field":"hi"}}},
{"data":{"name":"cut"},"mark":{"type":"rule","color":"#9d9d9d","strokeWidth":2.2,"strokeDash":[6,5]},"encoding":{}},
{"transform":[{"filter":"datum.d2 != null"}],"mark":{"type":"rule","strokeCap":"round","strokeWidth":2},"encoding":{"x2":{"field":"d2"},"y":{"field":"r","type":"quantitative","title":null},"y2":{"field":"r2"},"color":{"field":"d","timeUnit":"utcyear","type":"ordinal","legend":null}}},
{"mark":{"type":"circle","size":26,"color":"#a4a4a4","opacity":1},"encoding":{"y":{"field":"r","type":"quantitative","title":null}}},
{"data":{"name":"pred"},"transform":[{"filter":"datum.c==='CKD'"}],"mark":{"type":"line","color":"#8f8f8f","strokeWidth":2,"strokeDash":[5,3]},"encoding":{"y":{"field":"p","type":"quantitative","title":null}}},
{"data":{"name":"pred"},"transform":[{"filter":"datum.c==='CKD'"}],"mark":{"type":"point","shape":"triangle-up","filled":true,"size":32,"color":"#8f8f8f","opacity":1},"encoding":{"y":{"field":"p","type":"quantitative","title":null}}},
{"transform":[{"filter":"datum.d2 != null"}],"mark":{"type":"rule","strokeCap":"round","strokeWidth":3},"encoding":{"x2":{"field":"d2"},"y":{"field":"a","type":"quantitative","title":null},"y2":{"field":"a2"},"stroke":{"field":"d","timeUnit":"utcyear","type":"ordinal","legend":null}}}
]}
]},
{"columns":2,"spacing":{"row":25,"column":14},"concat":[
{"title":"Dementia","width":612,"height":133,"data":{"name":"obs"},"transform":[{"filter":"datum.c==='DEM'"},{"window":[{"op":"lead","field":"d","as":"d2"},{"op":"lead","field":"r","as":"r2"},{"op":"lead","field":"a","as":"a2"}],"sort":[{"field":"d"}]}],
"encoding":{"x":{"field":"d","type":"temporal","title":null,"scale":{"type":"utc","domain":[{"year":2014,"month":11,"date":28,"utc":true},{"year":2021,"month":12,"date":18,"utc":true}]},"axis":null}},
"layer":[
{"data":{"name":"pred"},"transform":[{"filter":"datum.c==='DEM'"}],"mark":{"type":"area","color":"#c2c2c2","opacity":0.6},"encoding":{"y":{"field":"lo","type":"quantitative","title":null,"scale":{"domain":[28.4,59.3],"nice":false,"zero":false},"axis":{"values":[30,40,50]}},"y2":{"field":"hi"}}},
{"data":{"name":"cut"},"mark":{"type":"rule","color":"#9d9d9d","strokeWidth":2.2,"strokeDash":[6,5]},"encoding":{}},
{"transform":[{"filter":"datum.d2 != null"}],"mark":{"type":"rule","strokeCap":"round","strokeWidth":2},"encoding":{"x2":{"field":"d2"},"y":{"field":"r","type":"quantitative","title":null},"y2":{"field":"r2"},"color":{"field":"d","timeUnit":"utcyear","type":"ordinal","legend":null}}},
{"mark":{"type":"circle","size":26,"color":"#a4a4a4","opacity":1},"encoding":{"y":{"field":"r","type":"quantitative","title":null}}},
{"data":{"name":"pred"},"transform":[{"filter":"datum.c==='DEM'"}],"mark":{"type":"line","color":"#8f8f8f","strokeWidth":2,"strokeDash":[5,3]},"encoding":{"y":{"field":"p","type":"quantitative","title":null}}},
{"data":{"name":"pred"},"transform":[{"filter":"datum.c==='DEM'"}],"mark":{"type":"point","shape":"triangle-up","filled":true,"size":32,"color":"#8f8f8f","opacity":1},"encoding":{"y":{"field":"p","type":"quantitative","title":null}}},
{"transform":[{"filter":"datum.d2 != null"}],"mark":{"type":"rule","strokeCap":"round","strokeWidth":3},"encoding":{"x2":{"field":"d2"},"y":{"field":"a","type":"quantitative","title":null},"y2":{"field":"a2"},"stroke":{"field":"d","timeUnit":"utcyear","type":"ordinal","legend":null}}}
]},
{"title":"PVD","width":612,"height":133,"data":{"name":"obs"},"transform":[{"filter":"datum.c==='PVD'"},{"window":[{"op":"lead","field":"d","as":"d2"},{"op":"lead","field":"r","as":"r2"},{"op":"lead","field":"a","as":"a2"}],"sort":[{"field":"d"}]}],
"encoding":{"x":{"field":"d","type":"temporal","title":null,"scale":{"type":"utc","domain":[{"year":2014,"month":11,"date":28,"utc":true},{"year":2021,"month":12,"date":18,"utc":true}]},"axis":null}},
"layer":[
{"data":{"name":"pred"},"transform":[{"filter":"datum.c==='PVD'"}],"mark":{"type":"area","color":"#c2c2c2","opacity":0.6},"encoding":{"y":{"field":"lo","type":"quantitative","title":null,"scale":{"domain":[7.3,22.2],"nice":false,"zero":false},"axis":{"values":[8,12,16,20]}},"y2":{"field":"hi"}}},
{"data":{"name":"cut"},"mark":{"type":"rule","color":"#9d9d9d","strokeWidth":2.2,"strokeDash":[6,5]},"encoding":{}},
{"transform":[{"filter":"datum.d2 != null"}],"mark":{"type":"rule","strokeCap":"round","strokeWidth":2},"encoding":{"x2":{"field":"d2"},"y":{"field":"r","type":"quantitative","title":null},"y2":{"field":"r2"},"color":{"field":"d","timeUnit":"utcyear","type":"ordinal","legend":null}}},
{"mark":{"type":"circle","size":26,"color":"#a4a4a4","opacity":1},"encoding":{"y":{"field":"r","type":"quantitative","title":null}}},
{"data":{"name":"pred"},"transform":[{"filter":"datum.c==='PVD'"}],"mark":{"type":"line","color":"#8f8f8f","strokeWidth":2,"strokeDash":[5,3]},"encoding":{"y":{"field":"p","type":"quantitative","title":null}}},
{"data":{"name":"pred"},"transform":[{"filter":"datum.c==='PVD'"}],"mark":{"type":"point","shape":"triangle-up","filled":true,"size":32,"color":"#8f8f8f","opacity":1},"encoding":{"y":{"field":"p","type":"quantitative","title":null}}},
{"transform":[{"filter":"datum.d2 != null"}],"mark":{"type":"rule","strokeCap":"round","strokeWidth":3},"encoding":{"x2":{"field":"d2"},"y":{"field":"a","type":"quantitative","title":null},"y2":{"field":"a2"},"stroke":{"field":"d","timeUnit":"utcyear","type":"ordinal","legend":null}}}
]},
{"title":"Stroke & TIA","width":612,"height":133,"data":{"name":"obs"},"transform":[{"filter":"datum.c==='STR'"},{"window":[{"op":"lead","field":"d","as":"d2"},{"op":"lead","field":"r","as":"r2"},{"op":"lead","field":"a","as":"a2"}],"sort":[{"field":"d"}]}],
"encoding":{"x":{"field":"d","type":"temporal","title":null,"scale":{"type":"utc","domain":[{"year":2014,"month":11,"date":28,"utc":true},{"year":2021,"month":12,"date":18,"utc":true}]},"axis":{"values":[{"year":2015,"month":1,"date":1,"utc":true},{"year":2016,"month":1,"date":1,"utc":true},{"year":2017,"month":1,"date":1,"utc":true},{"year":2018,"month":1,"date":1,"utc":true},{"year":2019,"month":1,"date":1,"utc":true},{"year":2020,"month":1,"date":1,"utc":true},{"year":2021,"month":1,"date":1,"utc":true}],"format":"%Y","formatType":"utc","labelOffset":43,"labelFontSize":17,"tickSize":6,"labelPadding":12,"labelOverlap":false,"labelBound":false,"labelFlush":false}}},
"layer":[
{"data":{"name":"pred"},"transform":[{"filter":"datum.c==='STR'"}],"mark":{"type":"area","color":"#c2c2c2","opacity":0.6},"encoding":{"y":{"field":"lo","type":"quantitative","title":null,"scale":{"domain":[18.8,33.7],"nice":false,"zero":false},"axis":{"values":[20,25,30]}},"y2":{"field":"hi"}}},
{"data":{"name":"cut"},"mark":{"type":"rule","color":"#9d9d9d","strokeWidth":2.2,"strokeDash":[6,5]},"encoding":{}},
{"transform":[{"filter":"datum.d2 != null"}],"mark":{"type":"rule","strokeCap":"round","strokeWidth":2},"encoding":{"x2":{"field":"d2"},"y":{"field":"r","type":"quantitative","title":null},"y2":{"field":"r2"},"color":{"field":"d","timeUnit":"utcyear","type":"ordinal","legend":null}}},
{"mark":{"type":"circle","size":26,"color":"#a4a4a4","opacity":1},"encoding":{"y":{"field":"r","type":"quantitative","title":null}}},
{"data":{"name":"pred"},"transform":[{"filter":"datum.c==='STR'"}],"mark":{"type":"line","color":"#8f8f8f","strokeWidth":2,"strokeDash":[5,3]},"encoding":{"y":{"field":"p","type":"quantitative","title":null}}},
{"data":{"name":"pred"},"transform":[{"filter":"datum.c==='STR'"}],"mark":{"type":"point","shape":"triangle-up","filled":true,"size":32,"color":"#8f8f8f","opacity":1},"encoding":{"y":{"field":"p","type":"quantitative","title":null}}},
{"transform":[{"filter":"datum.d2 != null"}],"mark":{"type":"rule","strokeCap":"round","strokeWidth":3},"encoding":{"x2":{"field":"d2"},"y":{"field":"a","type":"quantitative","title":null},"y2":{"field":"a2"},"stroke":{"field":"d","timeUnit":"utcyear","type":"ordinal","legend":null}}}
]},
{"title":"Hypertension","width":612,"height":133,"data":{"name":"obs"},"transform":[{"filter":"datum.c==='HTN'"},{"window":[{"op":"lead","field":"d","as":"d2"},{"op":"lead","field":"r","as":"r2"},{"op":"lead","field":"a","as":"a2"}],"sort":[{"field":"d"}]}],
"encoding":{"x":{"field":"d","type":"temporal","title":null,"scale":{"type":"utc","domain":[{"year":2014,"month":11,"date":28,"utc":true},{"year":2021,"month":12,"date":18,"utc":true}]},"axis":{"values":[{"year":2015,"month":1,"date":1,"utc":true},{"year":2016,"month":1,"date":1,"utc":true},{"year":2017,"month":1,"date":1,"utc":true},{"year":2018,"month":1,"date":1,"utc":true},{"year":2019,"month":1,"date":1,"utc":true},{"year":2020,"month":1,"date":1,"utc":true},{"year":2021,"month":1,"date":1,"utc":true}],"format":"%Y","formatType":"utc","labelOffset":43,"labelFontSize":17,"tickSize":6,"labelPadding":12,"labelOverlap":false,"labelBound":false,"labelFlush":false}}},
"layer":[
{"data":{"name":"pred"},"transform":[{"filter":"datum.c==='HTN'"}],"mark":{"type":"area","color":"#c2c2c2","opacity":0.6},"encoding":{"y":{"field":"lo","type":"quantitative","title":null,"scale":{"domain":[26.8,120.4],"nice":false,"zero":false},"axis":{"values":[50,75,100]}},"y2":{"field":"hi"}}},
{"data":{"name":"cut"},"mark":{"type":"rule","color":"#9d9d9d","strokeWidth":2.2,"strokeDash":[6,5]},"encoding":{}},
{"transform":[{"filter":"datum.d2 != null"}],"mark":{"type":"rule","strokeCap":"round","strokeWidth":2},"encoding":{"x2":{"field":"d2"},"y":{"field":"r","type":"quantitative","title":null},"y2":{"field":"r2"},"color":{"field":"d","timeUnit":"utcyear","type":"ordinal","legend":null}}},
{"mark":{"type":"circle","size":26,"color":"#a4a4a4","opacity":1},"encoding":{"y":{"field":"r","type":"quantitative","title":null}}},
{"data":{"name":"pred"},"transform":[{"filter":"datum.c==='HTN'"}],"mark":{"type":"line","color":"#8f8f8f","strokeWidth":2,"strokeDash":[5,3]},"encoding":{"y":{"field":"p","type":"quantitative","title":null}}},
{"data":{"name":"pred"},"transform":[{"filter":"datum.c==='HTN'"}],"mark":{"type":"point","shape":"triangle-up","filled":true,"size":32,"color":"#8f8f8f","opacity":1},"encoding":{"y":{"field":"p","type":"quantitative","title":null}}},
{"transform":[{"filter":"datum.d2 != null"}],"mark":{"type":"rule","strokeCap":"round","strokeWidth":3},"encoding":{"x2":{"field":"d2"},"y":{"field":"a","type":"quantitative","title":null},"y2":{"field":"a2"},"stroke":{"field":"d","timeUnit":"utcyear","type":"ordinal","legend":null}}}
]}
]},
{"width":1,"height":1,"data":{"name":"keys"},"mark":{"type":"line","color":"#231f20"},
"encoding":{
"strokeWidth":{"field":"s","type":"nominal","scale":{"type":"ordinal","domain":["Rate","Rolled average"],"range":[3,3]},"legend":{"title":null,"orient":"none","legendX":259,"legendY":922,"direction":"horizontal","symbolType":"stroke","symbolSize":1444,"symbolStrokeWidth":3,"symbolStrokeColor":"#231f20","labelFontSize":19,"labelFontWeight":"bold","labelColor":"#231f20","columnPadding":11,"labelOffset":11,"encode":{"symbols":{"update":{"stroke":{"signal":"datum.value==='Rate'?'#a6a6a6':'#231f20'"},"strokeWidth":{"value":3},"opacity":{"value":1}}}}}},
"strokeDash":{"field":"o","type":"nominal","scale":{"domain":["Observed","Predicted"],"range":[[1,0],[14,9]]},"legend":{"title":null,"orient":"none","legendX":635,"legendY":922,"direction":"horizontal","symbolType":"stroke","symbolSize":1444,"symbolStrokeWidth":3,"symbolStrokeColor":"#231f20","labelFontSize":19,"labelFontWeight":"bold","labelColor":"#231f20","columnPadding":20,"labelOffset":11,"encode":{"symbols":{"update":{"stroke":{"value":"#231f20"},"strokeWidth":{"value":3},"opacity":{"value":1}}}}}}
}}
]
}
